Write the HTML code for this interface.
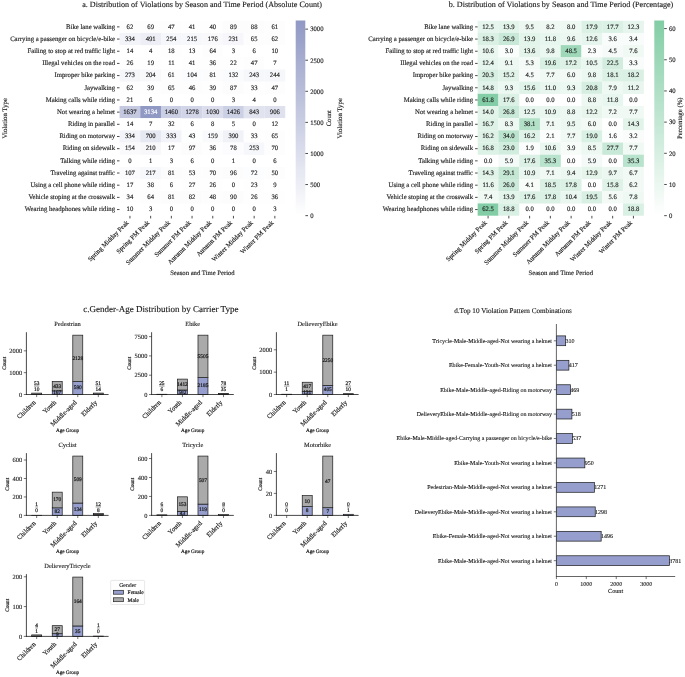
<!DOCTYPE html>
<html lang="en"><head><meta charset="utf-8"><title>Violation distribution figure</title>
<style>html,body{margin:0;padding:0;background:#fff}svg{display:block}text{font-family:"Liberation Serif",serif;text-rendering:geometricPrecision;stroke:#1a1a1a;stroke-width:0.13px;paint-order:stroke}</style></head><body>
<svg width="685" height="677" viewBox="0 0 685 677">
<rect x="0" y="0" width="685" height="677" fill="#ffffff"/>
<text x="202.1" y="7.3" font-size="8.1" text-anchor="middle" fill="#1a1a1a">a. Distribution of Violations by Season and Time Period (Absolute Count)</text>
<rect x="119.55" y="20.75" width="20.8" height="12.28" fill="#fdfdfe"/>
<text x="129.95" y="28.69" font-size="6.67" text-anchor="middle" fill="#1a1a1a">62</text>
<rect x="140.25" y="20.75" width="20.8" height="12.28" fill="#fdfdfe"/>
<text x="150.65" y="28.69" font-size="6.67" text-anchor="middle" fill="#1a1a1a">69</text>
<rect x="160.95" y="20.75" width="20.8" height="12.28" fill="#fdfdfe"/>
<text x="171.35" y="28.69" font-size="6.67" text-anchor="middle" fill="#1a1a1a">47</text>
<rect x="181.65" y="20.75" width="20.8" height="12.28" fill="#fefefe"/>
<text x="192.05" y="28.69" font-size="6.67" text-anchor="middle" fill="#1a1a1a">41</text>
<rect x="202.35" y="20.75" width="20.8" height="12.28" fill="#fefefe"/>
<text x="212.75" y="28.69" font-size="6.67" text-anchor="middle" fill="#1a1a1a">40</text>
<rect x="223.05" y="20.75" width="20.8" height="12.28" fill="#fcfcfd"/>
<text x="233.45" y="28.69" font-size="6.67" text-anchor="middle" fill="#1a1a1a">89</text>
<rect x="243.75" y="20.75" width="20.8" height="12.28" fill="#fcfcfd"/>
<text x="254.15" y="28.69" font-size="6.67" text-anchor="middle" fill="#1a1a1a">88</text>
<rect x="264.45" y="20.75" width="20.8" height="12.28" fill="#fdfdfe"/>
<text x="274.85" y="28.69" font-size="6.67" text-anchor="middle" fill="#1a1a1a">61</text>
<text x="115" y="28.64" font-size="6.72" text-anchor="end" fill="#1a1a1a">Bike lane walking</text>
<line x1="117" y1="26.89" x2="119.5" y2="26.89" stroke="#111" stroke-width="0.75"/>
<rect x="119.55" y="32.93" width="20.8" height="12.28" fill="#f3f4f9"/>
<text x="129.95" y="40.87" font-size="6.67" text-anchor="middle" fill="#1a1a1a">334</text>
<rect x="140.25" y="32.93" width="20.8" height="12.28" fill="#eeeff6"/>
<text x="150.65" y="40.87" font-size="6.67" text-anchor="middle" fill="#1a1a1a">491</text>
<rect x="160.95" y="32.93" width="20.8" height="12.28" fill="#f6f7fa"/>
<text x="171.35" y="40.87" font-size="6.67" text-anchor="middle" fill="#1a1a1a">254</text>
<rect x="181.65" y="32.93" width="20.8" height="12.28" fill="#f7f8fb"/>
<text x="192.05" y="40.87" font-size="6.67" text-anchor="middle" fill="#1a1a1a">215</text>
<rect x="202.35" y="32.93" width="20.8" height="12.28" fill="#f9f9fc"/>
<text x="212.75" y="40.87" font-size="6.67" text-anchor="middle" fill="#1a1a1a">176</text>
<rect x="223.05" y="32.93" width="20.8" height="12.28" fill="#f7f7fb"/>
<text x="233.45" y="40.87" font-size="6.67" text-anchor="middle" fill="#1a1a1a">231</text>
<rect x="243.75" y="32.93" width="20.8" height="12.28" fill="#fdfdfe"/>
<text x="254.15" y="40.87" font-size="6.67" text-anchor="middle" fill="#1a1a1a">65</text>
<rect x="264.45" y="32.93" width="20.8" height="12.28" fill="#fdfdfe"/>
<text x="274.85" y="40.87" font-size="6.67" text-anchor="middle" fill="#1a1a1a">62</text>
<text x="115" y="40.82" font-size="6.72" text-anchor="end" fill="#1a1a1a">Carrying a passenger on bicycle/e-bike</text>
<line x1="117" y1="39.07" x2="119.5" y2="39.07" stroke="#111" stroke-width="0.75"/>
<rect x="119.55" y="45.11" width="20.8" height="12.28" fill="#ffffff"/>
<text x="129.95" y="53.05" font-size="6.67" text-anchor="middle" fill="#1a1a1a">14</text>
<text x="150.65" y="53.05" font-size="6.67" text-anchor="middle" fill="#1a1a1a">4</text>
<rect x="160.95" y="45.11" width="20.8" height="12.28" fill="#fefeff"/>
<text x="171.35" y="53.05" font-size="6.67" text-anchor="middle" fill="#1a1a1a">18</text>
<rect x="181.65" y="45.11" width="20.8" height="12.28" fill="#ffffff"/>
<text x="192.05" y="53.05" font-size="6.67" text-anchor="middle" fill="#1a1a1a">13</text>
<rect x="202.35" y="45.11" width="20.8" height="12.28" fill="#fdfdfe"/>
<text x="212.75" y="53.05" font-size="6.67" text-anchor="middle" fill="#1a1a1a">64</text>
<text x="233.45" y="53.05" font-size="6.67" text-anchor="middle" fill="#1a1a1a">3</text>
<text x="254.15" y="53.05" font-size="6.67" text-anchor="middle" fill="#1a1a1a">6</text>
<rect x="264.45" y="45.11" width="20.8" height="12.28" fill="#ffffff"/>
<text x="274.85" y="53.05" font-size="6.67" text-anchor="middle" fill="#1a1a1a">10</text>
<text x="115" y="53" font-size="6.72" text-anchor="end" fill="#1a1a1a">Failing to stop at red traffic light</text>
<line x1="117" y1="51.25" x2="119.5" y2="51.25" stroke="#111" stroke-width="0.75"/>
<rect x="119.55" y="57.28" width="20.8" height="12.28" fill="#fefeff"/>
<text x="129.95" y="65.22" font-size="6.67" text-anchor="middle" fill="#1a1a1a">26</text>
<rect x="140.25" y="57.28" width="20.8" height="12.28" fill="#fefeff"/>
<text x="150.65" y="65.22" font-size="6.67" text-anchor="middle" fill="#1a1a1a">19</text>
<rect x="160.95" y="57.28" width="20.8" height="12.28" fill="#ffffff"/>
<text x="171.35" y="65.22" font-size="6.67" text-anchor="middle" fill="#1a1a1a">11</text>
<rect x="181.65" y="57.28" width="20.8" height="12.28" fill="#fefefe"/>
<text x="192.05" y="65.22" font-size="6.67" text-anchor="middle" fill="#1a1a1a">41</text>
<rect x="202.35" y="57.28" width="20.8" height="12.28" fill="#fefefe"/>
<text x="212.75" y="65.22" font-size="6.67" text-anchor="middle" fill="#1a1a1a">36</text>
<rect x="223.05" y="57.28" width="20.8" height="12.28" fill="#fefeff"/>
<text x="233.45" y="65.22" font-size="6.67" text-anchor="middle" fill="#1a1a1a">22</text>
<rect x="243.75" y="57.28" width="20.8" height="12.28" fill="#fdfdfe"/>
<text x="254.15" y="65.22" font-size="6.67" text-anchor="middle" fill="#1a1a1a">47</text>
<rect x="264.45" y="57.28" width="20.8" height="12.28" fill="#ffffff"/>
<text x="274.85" y="65.22" font-size="6.67" text-anchor="middle" fill="#1a1a1a">7</text>
<text x="115" y="65.17" font-size="6.72" text-anchor="end" fill="#1a1a1a">Illegal vehicles on the road</text>
<line x1="117" y1="63.42" x2="119.5" y2="63.42" stroke="#111" stroke-width="0.75"/>
<rect x="119.55" y="69.46" width="20.8" height="12.28" fill="#f5f6fa"/>
<text x="129.95" y="77.4" font-size="6.67" text-anchor="middle" fill="#1a1a1a">273</text>
<rect x="140.25" y="69.46" width="20.8" height="12.28" fill="#f8f8fb"/>
<text x="150.65" y="77.4" font-size="6.67" text-anchor="middle" fill="#1a1a1a">204</text>
<rect x="160.95" y="69.46" width="20.8" height="12.28" fill="#fdfdfe"/>
<text x="171.35" y="77.4" font-size="6.67" text-anchor="middle" fill="#1a1a1a">61</text>
<rect x="181.65" y="69.46" width="20.8" height="12.28" fill="#fbfcfd"/>
<text x="192.05" y="77.4" font-size="6.67" text-anchor="middle" fill="#1a1a1a">104</text>
<rect x="202.35" y="69.46" width="20.8" height="12.28" fill="#fcfcfd"/>
<text x="212.75" y="77.4" font-size="6.67" text-anchor="middle" fill="#1a1a1a">81</text>
<rect x="223.05" y="69.46" width="20.8" height="12.28" fill="#fafbfd"/>
<text x="233.45" y="77.4" font-size="6.67" text-anchor="middle" fill="#1a1a1a">132</text>
<rect x="243.75" y="69.46" width="20.8" height="12.28" fill="#f6f7fa"/>
<text x="254.15" y="77.4" font-size="6.67" text-anchor="middle" fill="#1a1a1a">243</text>
<rect x="264.45" y="69.46" width="20.8" height="12.28" fill="#f6f7fa"/>
<text x="274.85" y="77.4" font-size="6.67" text-anchor="middle" fill="#1a1a1a">244</text>
<text x="115" y="77.35" font-size="6.72" text-anchor="end" fill="#1a1a1a">Improper bike parking</text>
<line x1="117" y1="75.6" x2="119.5" y2="75.6" stroke="#111" stroke-width="0.75"/>
<rect x="119.55" y="81.64" width="20.8" height="12.28" fill="#fdfdfe"/>
<text x="129.95" y="89.58" font-size="6.67" text-anchor="middle" fill="#1a1a1a">62</text>
<rect x="140.25" y="81.64" width="20.8" height="12.28" fill="#fefefe"/>
<text x="150.65" y="89.58" font-size="6.67" text-anchor="middle" fill="#1a1a1a">39</text>
<rect x="160.95" y="81.64" width="20.8" height="12.28" fill="#fdfdfe"/>
<text x="171.35" y="89.58" font-size="6.67" text-anchor="middle" fill="#1a1a1a">65</text>
<rect x="181.65" y="81.64" width="20.8" height="12.28" fill="#fdfdfe"/>
<text x="192.05" y="89.58" font-size="6.67" text-anchor="middle" fill="#1a1a1a">46</text>
<rect x="202.35" y="81.64" width="20.8" height="12.28" fill="#fefefe"/>
<text x="212.75" y="89.58" font-size="6.67" text-anchor="middle" fill="#1a1a1a">39</text>
<rect x="223.05" y="81.64" width="20.8" height="12.28" fill="#fcfcfd"/>
<text x="233.45" y="89.58" font-size="6.67" text-anchor="middle" fill="#1a1a1a">87</text>
<rect x="243.75" y="81.64" width="20.8" height="12.28" fill="#fefefe"/>
<text x="254.15" y="89.58" font-size="6.67" text-anchor="middle" fill="#1a1a1a">33</text>
<rect x="264.45" y="81.64" width="20.8" height="12.28" fill="#fdfdfe"/>
<text x="274.85" y="89.58" font-size="6.67" text-anchor="middle" fill="#1a1a1a">47</text>
<text x="115" y="89.53" font-size="6.72" text-anchor="end" fill="#1a1a1a">Jaywalking</text>
<line x1="117" y1="87.78" x2="119.5" y2="87.78" stroke="#111" stroke-width="0.75"/>
<rect x="119.55" y="93.82" width="20.8" height="12.28" fill="#fefeff"/>
<text x="129.95" y="101.76" font-size="6.67" text-anchor="middle" fill="#1a1a1a">21</text>
<text x="150.65" y="101.76" font-size="6.67" text-anchor="middle" fill="#1a1a1a">6</text>
<text x="171.35" y="101.76" font-size="6.67" text-anchor="middle" fill="#1a1a1a">0</text>
<text x="192.05" y="101.76" font-size="6.67" text-anchor="middle" fill="#1a1a1a">0</text>
<text x="212.75" y="101.76" font-size="6.67" text-anchor="middle" fill="#1a1a1a">0</text>
<text x="233.45" y="101.76" font-size="6.67" text-anchor="middle" fill="#1a1a1a">3</text>
<text x="254.15" y="101.76" font-size="6.67" text-anchor="middle" fill="#1a1a1a">4</text>
<text x="274.85" y="101.76" font-size="6.67" text-anchor="middle" fill="#1a1a1a">0</text>
<text x="115" y="101.71" font-size="6.72" text-anchor="end" fill="#1a1a1a">Making calls while riding</text>
<line x1="117" y1="99.96" x2="119.5" y2="99.96" stroke="#111" stroke-width="0.75"/>
<rect x="119.55" y="106" width="20.8" height="12.28" fill="#c5c9e0"/>
<text x="129.95" y="113.94" font-size="6.67" text-anchor="middle" fill="#1a1a1a">1637</text>
<rect x="140.25" y="106" width="20.8" height="12.28" fill="#9098c4"/>
<text x="150.65" y="113.94" font-size="6.67" text-anchor="middle" fill="#ffffff" style="stroke:#ffffff;">3134</text>
<rect x="160.95" y="106" width="20.8" height="12.28" fill="#cbcfe4"/>
<text x="171.35" y="113.94" font-size="6.67" text-anchor="middle" fill="#1a1a1a">1460</text>
<rect x="181.65" y="106" width="20.8" height="12.28" fill="#d2d5e7"/>
<text x="192.05" y="113.94" font-size="6.67" text-anchor="middle" fill="#1a1a1a">1278</text>
<rect x="202.35" y="106" width="20.8" height="12.28" fill="#dbddec"/>
<text x="212.75" y="113.94" font-size="6.67" text-anchor="middle" fill="#1a1a1a">1030</text>
<rect x="223.05" y="106" width="20.8" height="12.28" fill="#ccd0e4"/>
<text x="233.45" y="113.94" font-size="6.67" text-anchor="middle" fill="#1a1a1a">1426</text>
<rect x="243.75" y="106" width="20.8" height="12.28" fill="#e1e3ef"/>
<text x="254.15" y="113.94" font-size="6.67" text-anchor="middle" fill="#1a1a1a">843</text>
<rect x="264.45" y="106" width="20.8" height="12.28" fill="#dfe1ee"/>
<text x="274.85" y="113.94" font-size="6.67" text-anchor="middle" fill="#1a1a1a">906</text>
<text x="115" y="113.89" font-size="6.72" text-anchor="end" fill="#1a1a1a">Not wearing a helmet</text>
<line x1="117" y1="112.14" x2="119.5" y2="112.14" stroke="#111" stroke-width="0.75"/>
<rect x="119.55" y="118.17" width="20.8" height="12.28" fill="#ffffff"/>
<text x="129.95" y="126.11" font-size="6.67" text-anchor="middle" fill="#1a1a1a">14</text>
<rect x="140.25" y="118.17" width="20.8" height="12.28" fill="#ffffff"/>
<text x="150.65" y="126.11" font-size="6.67" text-anchor="middle" fill="#1a1a1a">7</text>
<rect x="160.95" y="118.17" width="20.8" height="12.28" fill="#fefefe"/>
<text x="171.35" y="126.11" font-size="6.67" text-anchor="middle" fill="#1a1a1a">32</text>
<text x="192.05" y="126.11" font-size="6.67" text-anchor="middle" fill="#1a1a1a">6</text>
<rect x="202.35" y="118.17" width="20.8" height="12.28" fill="#ffffff"/>
<text x="212.75" y="126.11" font-size="6.67" text-anchor="middle" fill="#1a1a1a">8</text>
<text x="233.45" y="126.11" font-size="6.67" text-anchor="middle" fill="#1a1a1a">5</text>
<text x="254.15" y="126.11" font-size="6.67" text-anchor="middle" fill="#1a1a1a">0</text>
<rect x="264.45" y="118.17" width="20.8" height="12.28" fill="#ffffff"/>
<text x="274.85" y="126.11" font-size="6.67" text-anchor="middle" fill="#1a1a1a">12</text>
<text x="115" y="126.06" font-size="6.72" text-anchor="end" fill="#1a1a1a">Riding in parallel</text>
<line x1="117" y1="124.31" x2="119.5" y2="124.31" stroke="#111" stroke-width="0.75"/>
<rect x="119.55" y="130.35" width="20.8" height="12.28" fill="#f3f4f9"/>
<text x="129.95" y="138.29" font-size="6.67" text-anchor="middle" fill="#1a1a1a">334</text>
<rect x="140.25" y="130.35" width="20.8" height="12.28" fill="#e6e8f2"/>
<text x="150.65" y="138.29" font-size="6.67" text-anchor="middle" fill="#1a1a1a">700</text>
<rect x="160.95" y="130.35" width="20.8" height="12.28" fill="#f3f4f9"/>
<text x="171.35" y="138.29" font-size="6.67" text-anchor="middle" fill="#1a1a1a">333</text>
<rect x="181.65" y="130.35" width="20.8" height="12.28" fill="#fdfefe"/>
<text x="192.05" y="138.29" font-size="6.67" text-anchor="middle" fill="#1a1a1a">43</text>
<rect x="202.35" y="130.35" width="20.8" height="12.28" fill="#f9fafc"/>
<text x="212.75" y="138.29" font-size="6.67" text-anchor="middle" fill="#1a1a1a">159</text>
<rect x="223.05" y="130.35" width="20.8" height="12.28" fill="#f1f2f8"/>
<text x="233.45" y="138.29" font-size="6.67" text-anchor="middle" fill="#1a1a1a">390</text>
<rect x="243.75" y="130.35" width="20.8" height="12.28" fill="#fefefe"/>
<text x="254.15" y="138.29" font-size="6.67" text-anchor="middle" fill="#1a1a1a">33</text>
<rect x="264.45" y="130.35" width="20.8" height="12.28" fill="#fdfdfe"/>
<text x="274.85" y="138.29" font-size="6.67" text-anchor="middle" fill="#1a1a1a">65</text>
<text x="115" y="138.24" font-size="6.72" text-anchor="end" fill="#1a1a1a">Riding on motorway</text>
<line x1="117" y1="136.49" x2="119.5" y2="136.49" stroke="#111" stroke-width="0.75"/>
<rect x="119.55" y="142.53" width="20.8" height="12.28" fill="#fafafc"/>
<text x="129.95" y="150.47" font-size="6.67" text-anchor="middle" fill="#1a1a1a">154</text>
<rect x="140.25" y="142.53" width="20.8" height="12.28" fill="#f8f8fb"/>
<text x="150.65" y="150.47" font-size="6.67" text-anchor="middle" fill="#1a1a1a">210</text>
<rect x="160.95" y="142.53" width="20.8" height="12.28" fill="#fefeff"/>
<text x="171.35" y="150.47" font-size="6.67" text-anchor="middle" fill="#1a1a1a">17</text>
<rect x="181.65" y="142.53" width="20.8" height="12.28" fill="#fcfcfd"/>
<text x="192.05" y="150.47" font-size="6.67" text-anchor="middle" fill="#1a1a1a">97</text>
<rect x="202.35" y="142.53" width="20.8" height="12.28" fill="#fefefe"/>
<text x="212.75" y="150.47" font-size="6.67" text-anchor="middle" fill="#1a1a1a">36</text>
<rect x="223.05" y="142.53" width="20.8" height="12.28" fill="#fcfcfe"/>
<text x="233.45" y="150.47" font-size="6.67" text-anchor="middle" fill="#1a1a1a">78</text>
<rect x="243.75" y="142.53" width="20.8" height="12.28" fill="#f6f7fa"/>
<text x="254.15" y="150.47" font-size="6.67" text-anchor="middle" fill="#1a1a1a">253</text>
<rect x="264.45" y="142.53" width="20.8" height="12.28" fill="#fdfdfe"/>
<text x="274.85" y="150.47" font-size="6.67" text-anchor="middle" fill="#1a1a1a">70</text>
<text x="115" y="150.42" font-size="6.72" text-anchor="end" fill="#1a1a1a">Riding on sidewalk</text>
<line x1="117" y1="148.67" x2="119.5" y2="148.67" stroke="#111" stroke-width="0.75"/>
<text x="129.95" y="162.65" font-size="6.67" text-anchor="middle" fill="#1a1a1a">0</text>
<text x="150.65" y="162.65" font-size="6.67" text-anchor="middle" fill="#1a1a1a">1</text>
<text x="171.35" y="162.65" font-size="6.67" text-anchor="middle" fill="#1a1a1a">3</text>
<text x="192.05" y="162.65" font-size="6.67" text-anchor="middle" fill="#1a1a1a">6</text>
<text x="212.75" y="162.65" font-size="6.67" text-anchor="middle" fill="#1a1a1a">0</text>
<text x="233.45" y="162.65" font-size="6.67" text-anchor="middle" fill="#1a1a1a">1</text>
<text x="254.15" y="162.65" font-size="6.67" text-anchor="middle" fill="#1a1a1a">0</text>
<text x="274.85" y="162.65" font-size="6.67" text-anchor="middle" fill="#1a1a1a">6</text>
<text x="115" y="162.6" font-size="6.72" text-anchor="end" fill="#1a1a1a">Talking while riding</text>
<line x1="117" y1="160.85" x2="119.5" y2="160.85" stroke="#111" stroke-width="0.75"/>
<rect x="119.55" y="166.89" width="20.8" height="12.28" fill="#fbfbfd"/>
<text x="129.95" y="174.83" font-size="6.67" text-anchor="middle" fill="#1a1a1a">107</text>
<rect x="140.25" y="166.89" width="20.8" height="12.28" fill="#f7f8fb"/>
<text x="150.65" y="174.83" font-size="6.67" text-anchor="middle" fill="#1a1a1a">217</text>
<rect x="160.95" y="166.89" width="20.8" height="12.28" fill="#fcfcfd"/>
<text x="171.35" y="174.83" font-size="6.67" text-anchor="middle" fill="#1a1a1a">81</text>
<rect x="181.65" y="166.89" width="20.8" height="12.28" fill="#fdfdfe"/>
<text x="192.05" y="174.83" font-size="6.67" text-anchor="middle" fill="#1a1a1a">53</text>
<rect x="202.35" y="166.89" width="20.8" height="12.28" fill="#fdfdfe"/>
<text x="212.75" y="174.83" font-size="6.67" text-anchor="middle" fill="#1a1a1a">70</text>
<rect x="223.05" y="166.89" width="20.8" height="12.28" fill="#fcfcfd"/>
<text x="233.45" y="174.83" font-size="6.67" text-anchor="middle" fill="#1a1a1a">96</text>
<rect x="243.75" y="166.89" width="20.8" height="12.28" fill="#fcfdfe"/>
<text x="254.15" y="174.83" font-size="6.67" text-anchor="middle" fill="#1a1a1a">72</text>
<rect x="264.45" y="166.89" width="20.8" height="12.28" fill="#fdfdfe"/>
<text x="274.85" y="174.83" font-size="6.67" text-anchor="middle" fill="#1a1a1a">50</text>
<text x="115" y="174.78" font-size="6.72" text-anchor="end" fill="#1a1a1a">Traveling against traffic</text>
<line x1="117" y1="173.03" x2="119.5" y2="173.03" stroke="#111" stroke-width="0.75"/>
<rect x="119.55" y="179.07" width="20.8" height="12.28" fill="#fefeff"/>
<text x="129.95" y="187" font-size="6.67" text-anchor="middle" fill="#1a1a1a">17</text>
<rect x="140.25" y="179.07" width="20.8" height="12.28" fill="#fefefe"/>
<text x="150.65" y="187" font-size="6.67" text-anchor="middle" fill="#1a1a1a">38</text>
<text x="171.35" y="187" font-size="6.67" text-anchor="middle" fill="#1a1a1a">6</text>
<rect x="181.65" y="179.07" width="20.8" height="12.28" fill="#fefefe"/>
<text x="192.05" y="187" font-size="6.67" text-anchor="middle" fill="#1a1a1a">27</text>
<rect x="202.35" y="179.07" width="20.8" height="12.28" fill="#fefeff"/>
<text x="212.75" y="187" font-size="6.67" text-anchor="middle" fill="#1a1a1a">26</text>
<text x="233.45" y="187" font-size="6.67" text-anchor="middle" fill="#1a1a1a">0</text>
<rect x="243.75" y="179.07" width="20.8" height="12.28" fill="#fefeff"/>
<text x="254.15" y="187" font-size="6.67" text-anchor="middle" fill="#1a1a1a">23</text>
<rect x="264.45" y="179.07" width="20.8" height="12.28" fill="#ffffff"/>
<text x="274.85" y="187" font-size="6.67" text-anchor="middle" fill="#1a1a1a">9</text>
<text x="115" y="186.95" font-size="6.72" text-anchor="end" fill="#1a1a1a">Using a cell phone while riding</text>
<line x1="117" y1="185.2" x2="119.5" y2="185.2" stroke="#111" stroke-width="0.75"/>
<rect x="119.55" y="191.24" width="20.8" height="12.28" fill="#fefefe"/>
<text x="129.95" y="199.18" font-size="6.67" text-anchor="middle" fill="#1a1a1a">34</text>
<rect x="140.25" y="191.24" width="20.8" height="12.28" fill="#fdfdfe"/>
<text x="150.65" y="199.18" font-size="6.67" text-anchor="middle" fill="#1a1a1a">64</text>
<rect x="160.95" y="191.24" width="20.8" height="12.28" fill="#fcfcfd"/>
<text x="171.35" y="199.18" font-size="6.67" text-anchor="middle" fill="#1a1a1a">81</text>
<rect x="181.65" y="191.24" width="20.8" height="12.28" fill="#fcfcfd"/>
<text x="192.05" y="199.18" font-size="6.67" text-anchor="middle" fill="#1a1a1a">82</text>
<rect x="202.35" y="191.24" width="20.8" height="12.28" fill="#fdfdfe"/>
<text x="212.75" y="199.18" font-size="6.67" text-anchor="middle" fill="#1a1a1a">48</text>
<rect x="223.05" y="191.24" width="20.8" height="12.28" fill="#fcfcfd"/>
<text x="233.45" y="199.18" font-size="6.67" text-anchor="middle" fill="#1a1a1a">90</text>
<rect x="243.75" y="191.24" width="20.8" height="12.28" fill="#fefeff"/>
<text x="254.15" y="199.18" font-size="6.67" text-anchor="middle" fill="#1a1a1a">26</text>
<rect x="264.45" y="191.24" width="20.8" height="12.28" fill="#fefefe"/>
<text x="274.85" y="199.18" font-size="6.67" text-anchor="middle" fill="#1a1a1a">36</text>
<text x="115" y="199.13" font-size="6.72" text-anchor="end" fill="#1a1a1a">Vehicle stoping at the crosswalk</text>
<line x1="117" y1="197.38" x2="119.5" y2="197.38" stroke="#111" stroke-width="0.75"/>
<rect x="119.55" y="203.42" width="20.8" height="12.28" fill="#ffffff"/>
<text x="129.95" y="211.36" font-size="6.67" text-anchor="middle" fill="#1a1a1a">10</text>
<text x="150.65" y="211.36" font-size="6.67" text-anchor="middle" fill="#1a1a1a">3</text>
<text x="171.35" y="211.36" font-size="6.67" text-anchor="middle" fill="#1a1a1a">0</text>
<text x="192.05" y="211.36" font-size="6.67" text-anchor="middle" fill="#1a1a1a">0</text>
<text x="212.75" y="211.36" font-size="6.67" text-anchor="middle" fill="#1a1a1a">0</text>
<text x="233.45" y="211.36" font-size="6.67" text-anchor="middle" fill="#1a1a1a">0</text>
<text x="254.15" y="211.36" font-size="6.67" text-anchor="middle" fill="#1a1a1a">0</text>
<text x="274.85" y="211.36" font-size="6.67" text-anchor="middle" fill="#1a1a1a">3</text>
<text x="115" y="211.31" font-size="6.72" text-anchor="end" fill="#1a1a1a">Wearing headphones while riding</text>
<line x1="117" y1="209.56" x2="119.5" y2="209.56" stroke="#111" stroke-width="0.75"/>
<line x1="129.95" y1="215.85" x2="129.95" y2="218.45" stroke="#111" stroke-width="0.75"/>
<text x="129.15" y="223.05" font-size="6.67" text-anchor="end" fill="#1a1a1a" transform="rotate(-45 129.15 223.05)">Spring Midday Peak</text>
<line x1="150.65" y1="215.85" x2="150.65" y2="218.45" stroke="#111" stroke-width="0.75"/>
<text x="149.85" y="223.05" font-size="6.67" text-anchor="end" fill="#1a1a1a" transform="rotate(-45 149.85 223.05)">Spring PM Peak</text>
<line x1="171.35" y1="215.85" x2="171.35" y2="218.45" stroke="#111" stroke-width="0.75"/>
<text x="170.55" y="223.05" font-size="6.67" text-anchor="end" fill="#1a1a1a" transform="rotate(-45 170.55 223.05)">Summer Midday Peak</text>
<line x1="192.05" y1="215.85" x2="192.05" y2="218.45" stroke="#111" stroke-width="0.75"/>
<text x="191.25" y="223.05" font-size="6.67" text-anchor="end" fill="#1a1a1a" transform="rotate(-45 191.25 223.05)">Summer PM Peak</text>
<line x1="212.75" y1="215.85" x2="212.75" y2="218.45" stroke="#111" stroke-width="0.75"/>
<text x="211.95" y="223.05" font-size="6.67" text-anchor="end" fill="#1a1a1a" transform="rotate(-45 211.95 223.05)">Autumn Midday Peak</text>
<line x1="233.45" y1="215.85" x2="233.45" y2="218.45" stroke="#111" stroke-width="0.75"/>
<text x="232.65" y="223.05" font-size="6.67" text-anchor="end" fill="#1a1a1a" transform="rotate(-45 232.65 223.05)">Autumn PM Peak</text>
<line x1="254.15" y1="215.85" x2="254.15" y2="218.45" stroke="#111" stroke-width="0.75"/>
<text x="253.35" y="223.05" font-size="6.67" text-anchor="end" fill="#1a1a1a" transform="rotate(-45 253.35 223.05)">Winter Midday Peak</text>
<line x1="274.85" y1="215.85" x2="274.85" y2="218.45" stroke="#111" stroke-width="0.75"/>
<text x="274.05" y="223.05" font-size="6.67" text-anchor="end" fill="#1a1a1a" transform="rotate(-45 274.05 223.05)">Winter PM Peak</text>
<text x="202.4" y="274.9" font-size="6.67" text-anchor="middle" fill="#1a1a1a">Season and Time Period</text>
<text x="6.6" y="118.23" font-size="6.8" text-anchor="middle" fill="#1a1a1a" transform="rotate(-90 6.6 118.23)">Violation Type</text>
<defs><linearGradient id="ga" x1="0" y1="1" x2="0" y2="0"><stop offset="0" stop-color="#ffffff"/><stop offset="1" stop-color="#9098c4"/></linearGradient></defs>
<rect x="295.7" y="20.5" width="9.6" height="195.15" fill="url(#ga)"/>
<line x1="305.4" y1="215.65" x2="308" y2="215.65" stroke="#111" stroke-width="0.75"/>
<text x="310.2" y="217.95" font-size="6.67" text-anchor="start" fill="#1a1a1a">0</text>
<line x1="305.4" y1="184.56" x2="308" y2="184.56" stroke="#111" stroke-width="0.75"/>
<text x="310.2" y="186.86" font-size="6.67" text-anchor="start" fill="#1a1a1a">500</text>
<line x1="305.4" y1="153.48" x2="308" y2="153.48" stroke="#111" stroke-width="0.75"/>
<text x="310.2" y="155.78" font-size="6.67" text-anchor="start" fill="#1a1a1a">1000</text>
<line x1="305.4" y1="122.39" x2="308" y2="122.39" stroke="#111" stroke-width="0.75"/>
<text x="310.2" y="124.69" font-size="6.67" text-anchor="start" fill="#1a1a1a">1500</text>
<line x1="305.4" y1="91.3" x2="308" y2="91.3" stroke="#111" stroke-width="0.75"/>
<text x="310.2" y="93.6" font-size="6.67" text-anchor="start" fill="#1a1a1a">2000</text>
<line x1="305.4" y1="60.22" x2="308" y2="60.22" stroke="#111" stroke-width="0.75"/>
<text x="310.2" y="62.52" font-size="6.67" text-anchor="start" fill="#1a1a1a">2500</text>
<line x1="305.4" y1="29.13" x2="308" y2="29.13" stroke="#111" stroke-width="0.75"/>
<text x="310.2" y="31.43" font-size="6.67" text-anchor="start" fill="#1a1a1a">3000</text>
<text x="331" y="118.23" font-size="6.67" text-anchor="middle" fill="#1a1a1a" transform="rotate(-90 331 118.23)">Count</text>
<text x="561" y="7.3" font-size="8.1" text-anchor="middle" fill="#1a1a1a">b. Distribution of Violations by Season and Time Period (Percentage)</text>
<rect x="477.65" y="20.75" width="20.86" height="12.28" fill="#e6f5ed"/>
<text x="488.08" y="28.69" font-size="6.67" text-anchor="middle" fill="#1a1a1a">12.5</text>
<rect x="498.41" y="20.75" width="20.86" height="12.28" fill="#e3f4eb"/>
<text x="508.84" y="28.69" font-size="6.67" text-anchor="middle" fill="#1a1a1a">13.9</text>
<rect x="519.18" y="20.75" width="20.86" height="12.28" fill="#ecf7f1"/>
<text x="529.61" y="28.69" font-size="6.67" text-anchor="middle" fill="#1a1a1a">9.5</text>
<rect x="539.94" y="20.75" width="20.86" height="12.28" fill="#eff8f3"/>
<text x="550.37" y="28.69" font-size="6.67" text-anchor="middle" fill="#1a1a1a">8.2</text>
<rect x="560.7" y="20.75" width="20.86" height="12.28" fill="#eff9f3"/>
<text x="571.13" y="28.69" font-size="6.67" text-anchor="middle" fill="#1a1a1a">8.0</text>
<rect x="581.46" y="20.75" width="20.86" height="12.28" fill="#dbf1e5"/>
<text x="591.89" y="28.69" font-size="6.67" text-anchor="middle" fill="#1a1a1a">17.9</text>
<rect x="602.23" y="20.75" width="20.86" height="12.28" fill="#dcf1e6"/>
<text x="612.66" y="28.69" font-size="6.67" text-anchor="middle" fill="#1a1a1a">17.7</text>
<rect x="622.99" y="20.75" width="20.86" height="12.28" fill="#e6f5ed"/>
<text x="633.42" y="28.69" font-size="6.67" text-anchor="middle" fill="#1a1a1a">12.3</text>
<text x="473.1" y="28.64" font-size="6.72" text-anchor="end" fill="#1a1a1a">Bike lane walking</text>
<line x1="475.1" y1="26.89" x2="477.6" y2="26.89" stroke="#111" stroke-width="0.75"/>
<rect x="477.65" y="32.93" width="20.86" height="12.28" fill="#daf0e5"/>
<text x="488.08" y="40.87" font-size="6.67" text-anchor="middle" fill="#1a1a1a">18.3</text>
<rect x="498.41" y="32.93" width="20.86" height="12.28" fill="#c9e9d8"/>
<text x="508.84" y="40.87" font-size="6.67" text-anchor="middle" fill="#1a1a1a">26.9</text>
<rect x="519.18" y="32.93" width="20.86" height="12.28" fill="#e3f4eb"/>
<text x="529.61" y="40.87" font-size="6.67" text-anchor="middle" fill="#1a1a1a">13.9</text>
<rect x="539.94" y="32.93" width="20.86" height="12.28" fill="#e7f6ee"/>
<text x="550.37" y="40.87" font-size="6.67" text-anchor="middle" fill="#1a1a1a">11.8</text>
<rect x="560.7" y="32.93" width="20.86" height="12.28" fill="#ecf7f1"/>
<text x="571.13" y="40.87" font-size="6.67" text-anchor="middle" fill="#1a1a1a">9.6</text>
<rect x="581.46" y="32.93" width="20.86" height="12.28" fill="#e6f5ed"/>
<text x="591.89" y="40.87" font-size="6.67" text-anchor="middle" fill="#1a1a1a">12.6</text>
<rect x="602.23" y="32.93" width="20.86" height="12.28" fill="#f8fcfa"/>
<text x="612.66" y="40.87" font-size="6.67" text-anchor="middle" fill="#1a1a1a">3.6</text>
<rect x="622.99" y="32.93" width="20.86" height="12.28" fill="#f8fcfa"/>
<text x="633.42" y="40.87" font-size="6.67" text-anchor="middle" fill="#1a1a1a">3.4</text>
<text x="473.1" y="40.82" font-size="6.72" text-anchor="end" fill="#1a1a1a">Carrying a passenger on bicycle/e-bike</text>
<line x1="475.1" y1="39.07" x2="477.6" y2="39.07" stroke="#111" stroke-width="0.75"/>
<rect x="477.65" y="45.11" width="20.86" height="12.28" fill="#eaf7f0"/>
<text x="488.08" y="53.05" font-size="6.67" text-anchor="middle" fill="#1a1a1a">10.6</text>
<rect x="498.41" y="45.11" width="20.86" height="12.28" fill="#f9fdfb"/>
<text x="508.84" y="53.05" font-size="6.67" text-anchor="middle" fill="#1a1a1a">3.0</text>
<rect x="519.18" y="45.11" width="20.86" height="12.28" fill="#e4f4eb"/>
<text x="529.61" y="53.05" font-size="6.67" text-anchor="middle" fill="#1a1a1a">13.6</text>
<rect x="539.94" y="45.11" width="20.86" height="12.28" fill="#ebf7f1"/>
<text x="550.37" y="53.05" font-size="6.67" text-anchor="middle" fill="#1a1a1a">9.8</text>
<rect x="560.7" y="45.11" width="20.86" height="12.28" fill="#9ed8b9"/>
<text x="571.13" y="53.05" font-size="6.67" text-anchor="middle" fill="#1a1a1a">48.5</text>
<rect x="581.46" y="45.11" width="20.86" height="12.28" fill="#fafdfc"/>
<text x="591.89" y="53.05" font-size="6.67" text-anchor="middle" fill="#1a1a1a">2.3</text>
<rect x="602.23" y="45.11" width="20.86" height="12.28" fill="#f6fbf9"/>
<text x="612.66" y="53.05" font-size="6.67" text-anchor="middle" fill="#1a1a1a">4.5</text>
<rect x="622.99" y="45.11" width="20.86" height="12.28" fill="#f0f9f4"/>
<text x="633.42" y="53.05" font-size="6.67" text-anchor="middle" fill="#1a1a1a">7.6</text>
<text x="473.1" y="53" font-size="6.72" text-anchor="end" fill="#1a1a1a">Failing to stop at red traffic light</text>
<line x1="475.1" y1="51.25" x2="477.6" y2="51.25" stroke="#111" stroke-width="0.75"/>
<rect x="477.65" y="57.28" width="20.86" height="12.28" fill="#e6f5ed"/>
<text x="488.08" y="65.22" font-size="6.67" text-anchor="middle" fill="#1a1a1a">12.4</text>
<rect x="498.41" y="57.28" width="20.86" height="12.28" fill="#edf8f2"/>
<text x="508.84" y="65.22" font-size="6.67" text-anchor="middle" fill="#1a1a1a">9.1</text>
<rect x="519.18" y="57.28" width="20.86" height="12.28" fill="#f4fbf7"/>
<text x="529.61" y="65.22" font-size="6.67" text-anchor="middle" fill="#1a1a1a">5.3</text>
<rect x="539.94" y="57.28" width="20.86" height="12.28" fill="#d8efe3"/>
<text x="550.37" y="65.22" font-size="6.67" text-anchor="middle" fill="#1a1a1a">19.6</text>
<rect x="560.7" y="57.28" width="20.86" height="12.28" fill="#ddf1e6"/>
<text x="571.13" y="65.22" font-size="6.67" text-anchor="middle" fill="#1a1a1a">17.2</text>
<rect x="581.46" y="57.28" width="20.86" height="12.28" fill="#eaf7f0"/>
<text x="591.89" y="65.22" font-size="6.67" text-anchor="middle" fill="#1a1a1a">10.5</text>
<rect x="602.23" y="57.28" width="20.86" height="12.28" fill="#d2eddf"/>
<text x="612.66" y="65.22" font-size="6.67" text-anchor="middle" fill="#1a1a1a">22.5</text>
<rect x="622.99" y="57.28" width="20.86" height="12.28" fill="#f8fcfa"/>
<text x="633.42" y="65.22" font-size="6.67" text-anchor="middle" fill="#1a1a1a">3.3</text>
<text x="473.1" y="65.17" font-size="6.72" text-anchor="end" fill="#1a1a1a">Illegal vehicles on the road</text>
<line x1="475.1" y1="63.42" x2="477.6" y2="63.42" stroke="#111" stroke-width="0.75"/>
<rect x="477.65" y="69.46" width="20.86" height="12.28" fill="#d6efe2"/>
<text x="488.08" y="77.4" font-size="6.67" text-anchor="middle" fill="#1a1a1a">20.3</text>
<rect x="498.41" y="69.46" width="20.86" height="12.28" fill="#e1f3e9"/>
<text x="508.84" y="77.4" font-size="6.67" text-anchor="middle" fill="#1a1a1a">15.2</text>
<rect x="519.18" y="69.46" width="20.86" height="12.28" fill="#f6fbf9"/>
<text x="529.61" y="77.4" font-size="6.67" text-anchor="middle" fill="#1a1a1a">4.5</text>
<rect x="539.94" y="69.46" width="20.86" height="12.28" fill="#f0f9f4"/>
<text x="550.37" y="77.4" font-size="6.67" text-anchor="middle" fill="#1a1a1a">7.7</text>
<rect x="560.7" y="69.46" width="20.86" height="12.28" fill="#f3faf6"/>
<text x="571.13" y="77.4" font-size="6.67" text-anchor="middle" fill="#1a1a1a">6.0</text>
<rect x="581.46" y="69.46" width="20.86" height="12.28" fill="#ebf7f1"/>
<text x="591.89" y="77.4" font-size="6.67" text-anchor="middle" fill="#1a1a1a">9.8</text>
<rect x="602.23" y="69.46" width="20.86" height="12.28" fill="#dbf1e5"/>
<text x="612.66" y="77.4" font-size="6.67" text-anchor="middle" fill="#1a1a1a">18.1</text>
<rect x="622.99" y="69.46" width="20.86" height="12.28" fill="#dbf0e5"/>
<text x="633.42" y="77.4" font-size="6.67" text-anchor="middle" fill="#1a1a1a">18.2</text>
<text x="473.1" y="77.35" font-size="6.72" text-anchor="end" fill="#1a1a1a">Improper bike parking</text>
<line x1="475.1" y1="75.6" x2="477.6" y2="75.6" stroke="#111" stroke-width="0.75"/>
<rect x="477.65" y="81.64" width="20.86" height="12.28" fill="#e1f3ea"/>
<text x="488.08" y="89.58" font-size="6.67" text-anchor="middle" fill="#1a1a1a">14.8</text>
<rect x="498.41" y="81.64" width="20.86" height="12.28" fill="#ecf8f2"/>
<text x="508.84" y="89.58" font-size="6.67" text-anchor="middle" fill="#1a1a1a">9.3</text>
<rect x="519.18" y="81.64" width="20.86" height="12.28" fill="#e0f3e9"/>
<text x="529.61" y="89.58" font-size="6.67" text-anchor="middle" fill="#1a1a1a">15.6</text>
<rect x="539.94" y="81.64" width="20.86" height="12.28" fill="#e9f6ef"/>
<text x="550.37" y="89.58" font-size="6.67" text-anchor="middle" fill="#1a1a1a">11.0</text>
<rect x="560.7" y="81.64" width="20.86" height="12.28" fill="#ecf8f2"/>
<text x="571.13" y="89.58" font-size="6.67" text-anchor="middle" fill="#1a1a1a">9.3</text>
<rect x="581.46" y="81.64" width="20.86" height="12.28" fill="#d5eee1"/>
<text x="591.89" y="89.58" font-size="6.67" text-anchor="middle" fill="#1a1a1a">20.8</text>
<rect x="602.23" y="81.64" width="20.86" height="12.28" fill="#eff9f4"/>
<text x="612.66" y="89.58" font-size="6.67" text-anchor="middle" fill="#1a1a1a">7.9</text>
<rect x="622.99" y="81.64" width="20.86" height="12.28" fill="#e9f6ef"/>
<text x="633.42" y="89.58" font-size="6.67" text-anchor="middle" fill="#1a1a1a">11.2</text>
<text x="473.1" y="89.53" font-size="6.72" text-anchor="end" fill="#1a1a1a">Jaywalking</text>
<line x1="475.1" y1="87.78" x2="477.6" y2="87.78" stroke="#111" stroke-width="0.75"/>
<rect x="477.65" y="93.82" width="20.86" height="12.28" fill="#83cea6"/>
<text x="488.08" y="101.76" font-size="6.67" text-anchor="middle" fill="#1a1a1a">61.8</text>
<rect x="498.41" y="93.82" width="20.86" height="12.28" fill="#dcf1e6"/>
<text x="508.84" y="101.76" font-size="6.67" text-anchor="middle" fill="#1a1a1a">17.6</text>
<text x="529.61" y="101.76" font-size="6.67" text-anchor="middle" fill="#1a1a1a">0.0</text>
<text x="550.37" y="101.76" font-size="6.67" text-anchor="middle" fill="#1a1a1a">0.0</text>
<text x="571.13" y="101.76" font-size="6.67" text-anchor="middle" fill="#1a1a1a">0.0</text>
<rect x="581.46" y="93.82" width="20.86" height="12.28" fill="#edf8f2"/>
<text x="591.89" y="101.76" font-size="6.67" text-anchor="middle" fill="#1a1a1a">8.8</text>
<rect x="602.23" y="93.82" width="20.86" height="12.28" fill="#e7f6ee"/>
<text x="612.66" y="101.76" font-size="6.67" text-anchor="middle" fill="#1a1a1a">11.8</text>
<text x="633.42" y="101.76" font-size="6.67" text-anchor="middle" fill="#1a1a1a">0.0</text>
<text x="473.1" y="101.71" font-size="6.72" text-anchor="end" fill="#1a1a1a">Making calls while riding</text>
<line x1="475.1" y1="99.96" x2="477.6" y2="99.96" stroke="#111" stroke-width="0.75"/>
<rect x="477.65" y="106" width="20.86" height="12.28" fill="#e3f4eb"/>
<text x="488.08" y="113.94" font-size="6.67" text-anchor="middle" fill="#1a1a1a">14.0</text>
<rect x="498.41" y="106" width="20.86" height="12.28" fill="#c9ead8"/>
<text x="508.84" y="113.94" font-size="6.67" text-anchor="middle" fill="#1a1a1a">26.8</text>
<rect x="519.18" y="106" width="20.86" height="12.28" fill="#e6f5ed"/>
<text x="529.61" y="113.94" font-size="6.67" text-anchor="middle" fill="#1a1a1a">12.5</text>
<rect x="539.94" y="106" width="20.86" height="12.28" fill="#e9f6ef"/>
<text x="550.37" y="113.94" font-size="6.67" text-anchor="middle" fill="#1a1a1a">10.9</text>
<rect x="560.7" y="106" width="20.86" height="12.28" fill="#edf8f2"/>
<text x="571.13" y="113.94" font-size="6.67" text-anchor="middle" fill="#1a1a1a">8.8</text>
<rect x="581.46" y="106" width="20.86" height="12.28" fill="#e7f5ed"/>
<text x="591.89" y="113.94" font-size="6.67" text-anchor="middle" fill="#1a1a1a">12.2</text>
<rect x="602.23" y="106" width="20.86" height="12.28" fill="#f1f9f5"/>
<text x="612.66" y="113.94" font-size="6.67" text-anchor="middle" fill="#1a1a1a">7.2</text>
<rect x="622.99" y="106" width="20.86" height="12.28" fill="#f0f9f4"/>
<text x="633.42" y="113.94" font-size="6.67" text-anchor="middle" fill="#1a1a1a">7.7</text>
<text x="473.1" y="113.89" font-size="6.72" text-anchor="end" fill="#1a1a1a">Not wearing a helmet</text>
<line x1="475.1" y1="112.14" x2="477.6" y2="112.14" stroke="#111" stroke-width="0.75"/>
<rect x="477.65" y="118.17" width="20.86" height="12.28" fill="#def2e7"/>
<text x="488.08" y="126.11" font-size="6.67" text-anchor="middle" fill="#1a1a1a">16.7</text>
<rect x="498.41" y="118.17" width="20.86" height="12.28" fill="#eef8f3"/>
<text x="508.84" y="126.11" font-size="6.67" text-anchor="middle" fill="#1a1a1a">8.3</text>
<rect x="519.18" y="118.17" width="20.86" height="12.28" fill="#b3e1c8"/>
<text x="529.61" y="126.11" font-size="6.67" text-anchor="middle" fill="#1a1a1a">38.1</text>
<rect x="539.94" y="118.17" width="20.86" height="12.28" fill="#f1f9f5"/>
<text x="550.37" y="126.11" font-size="6.67" text-anchor="middle" fill="#1a1a1a">7.1</text>
<rect x="560.7" y="118.17" width="20.86" height="12.28" fill="#ecf7f1"/>
<text x="571.13" y="126.11" font-size="6.67" text-anchor="middle" fill="#1a1a1a">9.5</text>
<rect x="581.46" y="118.17" width="20.86" height="12.28" fill="#f3faf6"/>
<text x="591.89" y="126.11" font-size="6.67" text-anchor="middle" fill="#1a1a1a">6.0</text>
<text x="612.66" y="126.11" font-size="6.67" text-anchor="middle" fill="#1a1a1a">0.0</text>
<rect x="622.99" y="118.17" width="20.86" height="12.28" fill="#e2f4ea"/>
<text x="633.42" y="126.11" font-size="6.67" text-anchor="middle" fill="#1a1a1a">14.3</text>
<text x="473.1" y="126.06" font-size="6.72" text-anchor="end" fill="#1a1a1a">Riding in parallel</text>
<line x1="475.1" y1="124.31" x2="477.6" y2="124.31" stroke="#111" stroke-width="0.75"/>
<rect x="477.65" y="130.35" width="20.86" height="12.28" fill="#dff2e8"/>
<text x="488.08" y="138.29" font-size="6.67" text-anchor="middle" fill="#1a1a1a">16.2</text>
<rect x="498.41" y="130.35" width="20.86" height="12.28" fill="#bbe4ce"/>
<text x="508.84" y="138.29" font-size="6.67" text-anchor="middle" fill="#1a1a1a">34.0</text>
<rect x="519.18" y="130.35" width="20.86" height="12.28" fill="#dff2e8"/>
<text x="529.61" y="138.29" font-size="6.67" text-anchor="middle" fill="#1a1a1a">16.2</text>
<rect x="539.94" y="130.35" width="20.86" height="12.28" fill="#fbfdfc"/>
<text x="550.37" y="138.29" font-size="6.67" text-anchor="middle" fill="#1a1a1a">2.1</text>
<rect x="560.7" y="130.35" width="20.86" height="12.28" fill="#f0f9f4"/>
<text x="571.13" y="138.29" font-size="6.67" text-anchor="middle" fill="#1a1a1a">7.7</text>
<rect x="581.46" y="130.35" width="20.86" height="12.28" fill="#d9f0e4"/>
<text x="591.89" y="138.29" font-size="6.67" text-anchor="middle" fill="#1a1a1a">19.0</text>
<rect x="602.23" y="130.35" width="20.86" height="12.28" fill="#fcfefd"/>
<text x="612.66" y="138.29" font-size="6.67" text-anchor="middle" fill="#1a1a1a">1.6</text>
<rect x="622.99" y="130.35" width="20.86" height="12.28" fill="#f9fcfa"/>
<text x="633.42" y="138.29" font-size="6.67" text-anchor="middle" fill="#1a1a1a">3.2</text>
<text x="473.1" y="138.24" font-size="6.72" text-anchor="end" fill="#1a1a1a">Riding on motorway</text>
<line x1="475.1" y1="136.49" x2="477.6" y2="136.49" stroke="#111" stroke-width="0.75"/>
<rect x="477.65" y="142.53" width="20.86" height="12.28" fill="#ddf2e7"/>
<text x="488.08" y="150.47" font-size="6.67" text-anchor="middle" fill="#1a1a1a">16.8</text>
<rect x="498.41" y="142.53" width="20.86" height="12.28" fill="#d1edde"/>
<text x="508.84" y="150.47" font-size="6.67" text-anchor="middle" fill="#1a1a1a">23.0</text>
<rect x="519.18" y="142.53" width="20.86" height="12.28" fill="#fbfdfc"/>
<text x="529.61" y="150.47" font-size="6.67" text-anchor="middle" fill="#1a1a1a">1.9</text>
<rect x="539.94" y="142.53" width="20.86" height="12.28" fill="#eaf7f0"/>
<text x="550.37" y="150.47" font-size="6.67" text-anchor="middle" fill="#1a1a1a">10.6</text>
<rect x="560.7" y="142.53" width="20.86" height="12.28" fill="#f7fcf9"/>
<text x="571.13" y="150.47" font-size="6.67" text-anchor="middle" fill="#1a1a1a">3.9</text>
<rect x="581.46" y="142.53" width="20.86" height="12.28" fill="#eef8f3"/>
<text x="591.89" y="150.47" font-size="6.67" text-anchor="middle" fill="#1a1a1a">8.5</text>
<rect x="602.23" y="142.53" width="20.86" height="12.28" fill="#c8e9d7"/>
<text x="612.66" y="150.47" font-size="6.67" text-anchor="middle" fill="#1a1a1a">27.7</text>
<rect x="622.99" y="142.53" width="20.86" height="12.28" fill="#f0f9f4"/>
<text x="633.42" y="150.47" font-size="6.67" text-anchor="middle" fill="#1a1a1a">7.7</text>
<text x="473.1" y="150.42" font-size="6.72" text-anchor="end" fill="#1a1a1a">Riding on sidewalk</text>
<line x1="475.1" y1="148.67" x2="477.6" y2="148.67" stroke="#111" stroke-width="0.75"/>
<text x="488.08" y="162.65" font-size="6.67" text-anchor="middle" fill="#1a1a1a">0.0</text>
<rect x="498.41" y="154.71" width="20.86" height="12.28" fill="#f3faf7"/>
<text x="508.84" y="162.65" font-size="6.67" text-anchor="middle" fill="#1a1a1a">5.9</text>
<rect x="519.18" y="154.71" width="20.86" height="12.28" fill="#dcf1e6"/>
<text x="529.61" y="162.65" font-size="6.67" text-anchor="middle" fill="#1a1a1a">17.6</text>
<rect x="539.94" y="154.71" width="20.86" height="12.28" fill="#b8e3cc"/>
<text x="550.37" y="162.65" font-size="6.67" text-anchor="middle" fill="#1a1a1a">35.3</text>
<text x="571.13" y="162.65" font-size="6.67" text-anchor="middle" fill="#1a1a1a">0.0</text>
<rect x="581.46" y="154.71" width="20.86" height="12.28" fill="#f3faf7"/>
<text x="591.89" y="162.65" font-size="6.67" text-anchor="middle" fill="#1a1a1a">5.9</text>
<text x="612.66" y="162.65" font-size="6.67" text-anchor="middle" fill="#1a1a1a">0.0</text>
<rect x="622.99" y="154.71" width="20.86" height="12.28" fill="#b8e3cc"/>
<text x="633.42" y="162.65" font-size="6.67" text-anchor="middle" fill="#1a1a1a">35.3</text>
<text x="473.1" y="162.6" font-size="6.72" text-anchor="end" fill="#1a1a1a">Talking while riding</text>
<line x1="475.1" y1="160.85" x2="477.6" y2="160.85" stroke="#111" stroke-width="0.75"/>
<rect x="477.65" y="166.89" width="20.86" height="12.28" fill="#e2f4ea"/>
<text x="488.08" y="174.83" font-size="6.67" text-anchor="middle" fill="#1a1a1a">14.3</text>
<rect x="498.41" y="166.89" width="20.86" height="12.28" fill="#c5e8d5"/>
<text x="508.84" y="174.83" font-size="6.67" text-anchor="middle" fill="#1a1a1a">29.1</text>
<rect x="519.18" y="166.89" width="20.86" height="12.28" fill="#e9f6ef"/>
<text x="529.61" y="174.83" font-size="6.67" text-anchor="middle" fill="#1a1a1a">10.9</text>
<rect x="539.94" y="166.89" width="20.86" height="12.28" fill="#f1f9f5"/>
<text x="550.37" y="174.83" font-size="6.67" text-anchor="middle" fill="#1a1a1a">7.1</text>
<rect x="560.7" y="166.89" width="20.86" height="12.28" fill="#ecf7f1"/>
<text x="571.13" y="174.83" font-size="6.67" text-anchor="middle" fill="#1a1a1a">9.4</text>
<rect x="581.46" y="166.89" width="20.86" height="12.28" fill="#e5f5ec"/>
<text x="591.89" y="174.83" font-size="6.67" text-anchor="middle" fill="#1a1a1a">12.9</text>
<rect x="602.23" y="166.89" width="20.86" height="12.28" fill="#ecf7f1"/>
<text x="612.66" y="174.83" font-size="6.67" text-anchor="middle" fill="#1a1a1a">9.7</text>
<rect x="622.99" y="166.89" width="20.86" height="12.28" fill="#f2faf5"/>
<text x="633.42" y="174.83" font-size="6.67" text-anchor="middle" fill="#1a1a1a">6.7</text>
<text x="473.1" y="174.78" font-size="6.72" text-anchor="end" fill="#1a1a1a">Traveling against traffic</text>
<line x1="475.1" y1="173.03" x2="477.6" y2="173.03" stroke="#111" stroke-width="0.75"/>
<rect x="477.65" y="179.07" width="20.86" height="12.28" fill="#e8f6ee"/>
<text x="488.08" y="187" font-size="6.67" text-anchor="middle" fill="#1a1a1a">11.6</text>
<rect x="498.41" y="179.07" width="20.86" height="12.28" fill="#cbeada"/>
<text x="508.84" y="187" font-size="6.67" text-anchor="middle" fill="#1a1a1a">26.0</text>
<rect x="519.18" y="179.07" width="20.86" height="12.28" fill="#f7fcf9"/>
<text x="529.61" y="187" font-size="6.67" text-anchor="middle" fill="#1a1a1a">4.1</text>
<rect x="539.94" y="179.07" width="20.86" height="12.28" fill="#daf0e4"/>
<text x="550.37" y="187" font-size="6.67" text-anchor="middle" fill="#1a1a1a">18.5</text>
<rect x="560.7" y="179.07" width="20.86" height="12.28" fill="#dbf1e5"/>
<text x="571.13" y="187" font-size="6.67" text-anchor="middle" fill="#1a1a1a">17.8</text>
<text x="591.89" y="187" font-size="6.67" text-anchor="middle" fill="#1a1a1a">0.0</text>
<rect x="602.23" y="179.07" width="20.86" height="12.28" fill="#dff2e8"/>
<text x="612.66" y="187" font-size="6.67" text-anchor="middle" fill="#1a1a1a">15.8</text>
<rect x="622.99" y="179.07" width="20.86" height="12.28" fill="#f3faf6"/>
<text x="633.42" y="187" font-size="6.67" text-anchor="middle" fill="#1a1a1a">6.2</text>
<text x="473.1" y="186.95" font-size="6.72" text-anchor="end" fill="#1a1a1a">Using a cell phone while riding</text>
<line x1="475.1" y1="185.2" x2="477.6" y2="185.2" stroke="#111" stroke-width="0.75"/>
<rect x="477.65" y="191.24" width="20.86" height="12.28" fill="#f0f9f4"/>
<text x="488.08" y="199.18" font-size="6.67" text-anchor="middle" fill="#1a1a1a">7.4</text>
<rect x="498.41" y="191.24" width="20.86" height="12.28" fill="#e3f4eb"/>
<text x="508.84" y="199.18" font-size="6.67" text-anchor="middle" fill="#1a1a1a">13.9</text>
<rect x="519.18" y="191.24" width="20.86" height="12.28" fill="#dcf1e6"/>
<text x="529.61" y="199.18" font-size="6.67" text-anchor="middle" fill="#1a1a1a">17.6</text>
<rect x="539.94" y="191.24" width="20.86" height="12.28" fill="#dbf1e5"/>
<text x="550.37" y="199.18" font-size="6.67" text-anchor="middle" fill="#1a1a1a">17.8</text>
<rect x="560.7" y="191.24" width="20.86" height="12.28" fill="#eaf7f0"/>
<text x="571.13" y="199.18" font-size="6.67" text-anchor="middle" fill="#1a1a1a">10.4</text>
<rect x="581.46" y="191.24" width="20.86" height="12.28" fill="#d8efe3"/>
<text x="591.89" y="199.18" font-size="6.67" text-anchor="middle" fill="#1a1a1a">19.5</text>
<rect x="602.23" y="191.24" width="20.86" height="12.28" fill="#f4fbf7"/>
<text x="612.66" y="199.18" font-size="6.67" text-anchor="middle" fill="#1a1a1a">5.6</text>
<rect x="622.99" y="191.24" width="20.86" height="12.28" fill="#eff9f4"/>
<text x="633.42" y="199.18" font-size="6.67" text-anchor="middle" fill="#1a1a1a">7.8</text>
<text x="473.1" y="199.13" font-size="6.72" text-anchor="end" fill="#1a1a1a">Vehicle stoping at the crosswalk</text>
<line x1="475.1" y1="197.38" x2="477.6" y2="197.38" stroke="#111" stroke-width="0.75"/>
<rect x="477.65" y="203.42" width="20.86" height="12.28" fill="#82cda5"/>
<text x="488.08" y="211.36" font-size="6.67" text-anchor="middle" fill="#1a1a1a">62.5</text>
<rect x="498.41" y="203.42" width="20.86" height="12.28" fill="#d9f0e4"/>
<text x="508.84" y="211.36" font-size="6.67" text-anchor="middle" fill="#1a1a1a">18.8</text>
<text x="529.61" y="211.36" font-size="6.67" text-anchor="middle" fill="#1a1a1a">0.0</text>
<text x="550.37" y="211.36" font-size="6.67" text-anchor="middle" fill="#1a1a1a">0.0</text>
<text x="571.13" y="211.36" font-size="6.67" text-anchor="middle" fill="#1a1a1a">0.0</text>
<text x="591.89" y="211.36" font-size="6.67" text-anchor="middle" fill="#1a1a1a">0.0</text>
<text x="612.66" y="211.36" font-size="6.67" text-anchor="middle" fill="#1a1a1a">0.0</text>
<rect x="622.99" y="203.42" width="20.86" height="12.28" fill="#d9f0e4"/>
<text x="633.42" y="211.36" font-size="6.67" text-anchor="middle" fill="#1a1a1a">18.8</text>
<text x="473.1" y="211.31" font-size="6.72" text-anchor="end" fill="#1a1a1a">Wearing headphones while riding</text>
<line x1="475.1" y1="209.56" x2="477.6" y2="209.56" stroke="#111" stroke-width="0.75"/>
<line x1="488.08" y1="215.85" x2="488.08" y2="218.45" stroke="#111" stroke-width="0.75"/>
<text x="487.28" y="223.05" font-size="6.67" text-anchor="end" fill="#1a1a1a" transform="rotate(-45 487.28 223.05)">Spring Midday Peak</text>
<line x1="508.84" y1="215.85" x2="508.84" y2="218.45" stroke="#111" stroke-width="0.75"/>
<text x="508.04" y="223.05" font-size="6.67" text-anchor="end" fill="#1a1a1a" transform="rotate(-45 508.04 223.05)">Spring PM Peak</text>
<line x1="529.61" y1="215.85" x2="529.61" y2="218.45" stroke="#111" stroke-width="0.75"/>
<text x="528.81" y="223.05" font-size="6.67" text-anchor="end" fill="#1a1a1a" transform="rotate(-45 528.81 223.05)">Summer Midday Peak</text>
<line x1="550.37" y1="215.85" x2="550.37" y2="218.45" stroke="#111" stroke-width="0.75"/>
<text x="549.57" y="223.05" font-size="6.67" text-anchor="end" fill="#1a1a1a" transform="rotate(-45 549.57 223.05)">Summer PM Peak</text>
<line x1="571.13" y1="215.85" x2="571.13" y2="218.45" stroke="#111" stroke-width="0.75"/>
<text x="570.33" y="223.05" font-size="6.67" text-anchor="end" fill="#1a1a1a" transform="rotate(-45 570.33 223.05)">Autumn Midday Peak</text>
<line x1="591.89" y1="215.85" x2="591.89" y2="218.45" stroke="#111" stroke-width="0.75"/>
<text x="591.09" y="223.05" font-size="6.67" text-anchor="end" fill="#1a1a1a" transform="rotate(-45 591.09 223.05)">Autumn PM Peak</text>
<line x1="612.66" y1="215.85" x2="612.66" y2="218.45" stroke="#111" stroke-width="0.75"/>
<text x="611.86" y="223.05" font-size="6.67" text-anchor="end" fill="#1a1a1a" transform="rotate(-45 611.86 223.05)">Winter Midday Peak</text>
<line x1="633.42" y1="215.85" x2="633.42" y2="218.45" stroke="#111" stroke-width="0.75"/>
<text x="632.62" y="223.05" font-size="6.67" text-anchor="end" fill="#1a1a1a" transform="rotate(-45 632.62 223.05)">Winter PM Peak</text>
<text x="560.75" y="274.9" font-size="6.67" text-anchor="middle" fill="#1a1a1a">Season and Time Period</text>
<text x="342.3" y="118.23" font-size="6.8" text-anchor="middle" fill="#1a1a1a" transform="rotate(-90 342.3 118.23)">Violation Type</text>
<defs><linearGradient id="gb" x1="0" y1="1" x2="0" y2="0"><stop offset="0" stop-color="#ffffff"/><stop offset="1" stop-color="#82cda5"/></linearGradient></defs>
<rect x="654.3" y="20.5" width="9.8" height="195.15" fill="url(#gb)"/>
<line x1="664.2" y1="215.65" x2="666.8" y2="215.65" stroke="#111" stroke-width="0.75"/>
<text x="669" y="217.95" font-size="6.67" text-anchor="start" fill="#1a1a1a">0</text>
<line x1="664.2" y1="184.47" x2="666.8" y2="184.47" stroke="#111" stroke-width="0.75"/>
<text x="669" y="186.77" font-size="6.67" text-anchor="start" fill="#1a1a1a">10</text>
<line x1="664.2" y1="153.3" x2="666.8" y2="153.3" stroke="#111" stroke-width="0.75"/>
<text x="669" y="155.6" font-size="6.67" text-anchor="start" fill="#1a1a1a">20</text>
<line x1="664.2" y1="122.12" x2="666.8" y2="122.12" stroke="#111" stroke-width="0.75"/>
<text x="669" y="124.42" font-size="6.67" text-anchor="start" fill="#1a1a1a">30</text>
<line x1="664.2" y1="90.95" x2="666.8" y2="90.95" stroke="#111" stroke-width="0.75"/>
<text x="669" y="93.25" font-size="6.67" text-anchor="start" fill="#1a1a1a">40</text>
<line x1="664.2" y1="59.77" x2="666.8" y2="59.77" stroke="#111" stroke-width="0.75"/>
<text x="669" y="62.07" font-size="6.67" text-anchor="start" fill="#1a1a1a">50</text>
<line x1="664.2" y1="28.59" x2="666.8" y2="28.59" stroke="#111" stroke-width="0.75"/>
<text x="669" y="30.89" font-size="6.67" text-anchor="start" fill="#1a1a1a">60</text>
<text x="682" y="118.23" font-size="6.8" text-anchor="middle" fill="#1a1a1a" transform="rotate(-90 682 118.23)">Percentage (%)</text>
<text x="160.8" y="312" font-size="9" text-anchor="middle" fill="#1a1a1a">c.Gender-Age Distribution by Carrier Type</text>
<text x="67.5" y="325.6" font-size="6.4" text-anchor="middle" fill="#1a1a1a" style="stroke-width:0.12px;">Pedestrian</text>
<rect x="31.69" y="394.28" width="9.97" height="0.22" fill="#959ecc" stroke="#1a1a1a" stroke-width="0.7"/>
<rect x="31.69" y="393.12" width="9.97" height="1.16" fill="#aaaaaa" stroke="#1a1a1a" stroke-width="0.7"/>
<text x="36.67" y="385.3" font-size="5.4" text-anchor="middle" fill="#1a1a1a" style="stroke-width:0.2px;">53</text>
<line x1="33.97" y1="386.05" x2="39.38" y2="386.05" stroke="#222" stroke-width="0.5"/>
<text x="36.67" y="390.9" font-size="5.4" text-anchor="middle" fill="#1a1a1a" style="stroke-width:0.2px;">10</text>
<rect x="52.24" y="390.85" width="9.97" height="3.65" fill="#959ecc" stroke="#1a1a1a" stroke-width="0.7"/>
<rect x="52.24" y="381.4" width="9.97" height="9.45" fill="#aaaaaa" stroke="#1a1a1a" stroke-width="0.7"/>
<text x="57.23" y="394.08" font-size="5.4" text-anchor="middle" fill="#1a1a1a" style="stroke-width:0.2px;">167</text>
<text x="57.23" y="387.63" font-size="5.4" text-anchor="middle" fill="#1a1a1a" style="stroke-width:0.2px;">433</text>
<rect x="72.79" y="381.62" width="9.97" height="12.88" fill="#959ecc" stroke="#1a1a1a" stroke-width="0.7"/>
<rect x="72.79" y="335.17" width="9.97" height="46.45" fill="#aaaaaa" stroke="#1a1a1a" stroke-width="0.7"/>
<text x="77.78" y="389.46" font-size="5.4" text-anchor="middle" fill="#1a1a1a" style="stroke-width:0.2px;">590</text>
<text x="77.78" y="359.89" font-size="5.4" text-anchor="middle" fill="#1a1a1a" style="stroke-width:0.2px;">2128</text>
<rect x="93.34" y="394.19" width="9.97" height="0.31" fill="#959ecc" stroke="#1a1a1a" stroke-width="0.7"/>
<rect x="93.34" y="393.08" width="9.97" height="1.11" fill="#aaaaaa" stroke="#1a1a1a" stroke-width="0.7"/>
<text x="98.32" y="385.3" font-size="5.4" text-anchor="middle" fill="#1a1a1a" style="stroke-width:0.2px;">51</text>
<line x1="95.62" y1="386.05" x2="101.02" y2="386.05" stroke="#222" stroke-width="0.5"/>
<text x="98.32" y="390.9" font-size="5.4" text-anchor="middle" fill="#1a1a1a" style="stroke-width:0.2px;">14</text>
<line x1="26.4" y1="332.2" x2="26.4" y2="394.9" stroke="#1a1a1a" stroke-width="0.8"/>
<line x1="26" y1="394.5" x2="108.6" y2="394.5" stroke="#1a1a1a" stroke-width="0.8"/>
<line x1="23.8" y1="394.5" x2="26.4" y2="394.5" stroke="#1a1a1a" stroke-width="0.6"/>
<text x="22.2" y="396.65" font-size="6.45" text-anchor="end" fill="#1a1a1a" style="stroke-width:0.12px;">0</text>
<line x1="23.8" y1="372.67" x2="26.4" y2="372.67" stroke="#1a1a1a" stroke-width="0.6"/>
<text x="22.2" y="374.82" font-size="6.45" text-anchor="end" fill="#1a1a1a" style="stroke-width:0.12px;">1000</text>
<line x1="23.8" y1="350.84" x2="26.4" y2="350.84" stroke="#1a1a1a" stroke-width="0.6"/>
<text x="22.2" y="352.99" font-size="6.45" text-anchor="end" fill="#1a1a1a" style="stroke-width:0.12px;">2000</text>
<line x1="36.67" y1="394.5" x2="36.67" y2="397.1" stroke="#1a1a1a" stroke-width="0.6"/>
<text x="36.07" y="402.8" font-size="6.67" text-anchor="end" fill="#1a1a1a" transform="rotate(-45 36.07 402.8)">Children</text>
<line x1="57.23" y1="394.5" x2="57.23" y2="397.1" stroke="#1a1a1a" stroke-width="0.6"/>
<text x="56.62" y="402.8" font-size="6.67" text-anchor="end" fill="#1a1a1a" transform="rotate(-45 56.62 402.8)">Youth</text>
<line x1="77.78" y1="394.5" x2="77.78" y2="397.1" stroke="#1a1a1a" stroke-width="0.6"/>
<text x="77.18" y="402.8" font-size="6.67" text-anchor="end" fill="#1a1a1a" transform="rotate(-45 77.18 402.8)">Middle-aged</text>
<line x1="98.32" y1="394.5" x2="98.32" y2="397.1" stroke="#1a1a1a" stroke-width="0.6"/>
<text x="97.72" y="402.8" font-size="6.67" text-anchor="end" fill="#1a1a1a" transform="rotate(-45 97.72 402.8)">Elderly</text>
<text x="67.5" y="432.4" font-size="5.2" text-anchor="middle" fill="#1a1a1a" style="stroke-width:0.2px;">Age Group</text>
<text x="6" y="363.35" font-size="5.3" text-anchor="middle" fill="#1a1a1a" transform="rotate(-90 6 363.35)" style="stroke-width:0.2px;">Count</text>
<text x="192.7" y="325.6" font-size="6.4" text-anchor="middle" fill="#1a1a1a" style="stroke-width:0.12px;">Ebike</text>
<rect x="156.89" y="394.45" width="9.97" height="0.05" fill="#959ecc" stroke="#1a1a1a" stroke-width="0.7"/>
<rect x="156.89" y="394.26" width="9.97" height="0.19" fill="#aaaaaa" stroke="#1a1a1a" stroke-width="0.7"/>
<text x="161.88" y="385.3" font-size="5.4" text-anchor="middle" fill="#1a1a1a" style="stroke-width:0.2px;">25</text>
<line x1="159.18" y1="386.05" x2="164.57" y2="386.05" stroke="#222" stroke-width="0.5"/>
<text x="161.88" y="390.9" font-size="5.4" text-anchor="middle" fill="#1a1a1a" style="stroke-width:0.2px;">6</text>
<rect x="177.44" y="390.01" width="9.97" height="4.49" fill="#959ecc" stroke="#1a1a1a" stroke-width="0.7"/>
<rect x="177.44" y="379.11" width="9.97" height="10.89" fill="#aaaaaa" stroke="#1a1a1a" stroke-width="0.7"/>
<text x="182.43" y="393.65" font-size="5.4" text-anchor="middle" fill="#1a1a1a" style="stroke-width:0.2px;">582</text>
<text x="182.43" y="386.06" font-size="5.4" text-anchor="middle" fill="#1a1a1a" style="stroke-width:0.2px;">1412</text>
<rect x="197.99" y="377.64" width="9.97" height="16.86" fill="#959ecc" stroke="#1a1a1a" stroke-width="0.7"/>
<rect x="197.99" y="335.17" width="9.97" height="42.47" fill="#aaaaaa" stroke="#1a1a1a" stroke-width="0.7"/>
<text x="202.97" y="387.47" font-size="5.4" text-anchor="middle" fill="#1a1a1a" style="stroke-width:0.2px;">2185</text>
<text x="202.97" y="357.9" font-size="5.4" text-anchor="middle" fill="#1a1a1a" style="stroke-width:0.2px;">5505</text>
<rect x="218.54" y="394.23" width="9.97" height="0.27" fill="#959ecc" stroke="#1a1a1a" stroke-width="0.7"/>
<rect x="218.54" y="393.63" width="9.97" height="0.6" fill="#aaaaaa" stroke="#1a1a1a" stroke-width="0.7"/>
<text x="223.52" y="385.3" font-size="5.4" text-anchor="middle" fill="#1a1a1a" style="stroke-width:0.2px;">78</text>
<line x1="220.82" y1="386.05" x2="226.22" y2="386.05" stroke="#222" stroke-width="0.5"/>
<text x="223.52" y="390.9" font-size="5.4" text-anchor="middle" fill="#1a1a1a" style="stroke-width:0.2px;">35</text>
<line x1="151.6" y1="332.2" x2="151.6" y2="394.9" stroke="#1a1a1a" stroke-width="0.8"/>
<line x1="151.2" y1="394.5" x2="233.8" y2="394.5" stroke="#1a1a1a" stroke-width="0.8"/>
<line x1="149" y1="394.5" x2="151.6" y2="394.5" stroke="#1a1a1a" stroke-width="0.6"/>
<text x="147.4" y="396.65" font-size="6.45" text-anchor="end" fill="#1a1a1a" style="stroke-width:0.12px;">0</text>
<line x1="149" y1="375.21" x2="151.6" y2="375.21" stroke="#1a1a1a" stroke-width="0.6"/>
<text x="147.4" y="377.36" font-size="6.45" text-anchor="end" fill="#1a1a1a" style="stroke-width:0.12px;">2500</text>
<line x1="149" y1="355.92" x2="151.6" y2="355.92" stroke="#1a1a1a" stroke-width="0.6"/>
<text x="147.4" y="358.07" font-size="6.45" text-anchor="end" fill="#1a1a1a" style="stroke-width:0.12px;">5000</text>
<line x1="149" y1="336.63" x2="151.6" y2="336.63" stroke="#1a1a1a" stroke-width="0.6"/>
<text x="147.4" y="338.78" font-size="6.45" text-anchor="end" fill="#1a1a1a" style="stroke-width:0.12px;">7500</text>
<line x1="161.88" y1="394.5" x2="161.88" y2="397.1" stroke="#1a1a1a" stroke-width="0.6"/>
<text x="161.28" y="402.8" font-size="6.67" text-anchor="end" fill="#1a1a1a" transform="rotate(-45 161.28 402.8)">Children</text>
<line x1="182.43" y1="394.5" x2="182.43" y2="397.1" stroke="#1a1a1a" stroke-width="0.6"/>
<text x="181.83" y="402.8" font-size="6.67" text-anchor="end" fill="#1a1a1a" transform="rotate(-45 181.83 402.8)">Youth</text>
<line x1="202.97" y1="394.5" x2="202.97" y2="397.1" stroke="#1a1a1a" stroke-width="0.6"/>
<text x="202.38" y="402.8" font-size="6.67" text-anchor="end" fill="#1a1a1a" transform="rotate(-45 202.38 402.8)">Middle-aged</text>
<line x1="223.52" y1="394.5" x2="223.52" y2="397.1" stroke="#1a1a1a" stroke-width="0.6"/>
<text x="222.92" y="402.8" font-size="6.67" text-anchor="end" fill="#1a1a1a" transform="rotate(-45 222.92 402.8)">Elderly</text>
<text x="192.7" y="432.4" font-size="5.2" text-anchor="middle" fill="#1a1a1a" style="stroke-width:0.2px;">Age Group</text>
<text x="131.2" y="363.35" font-size="5.3" text-anchor="middle" fill="#1a1a1a" transform="rotate(-90 131.2 363.35)" style="stroke-width:0.2px;">Count</text>
<text x="317.5" y="325.6" font-size="6.4" text-anchor="middle" fill="#1a1a1a" style="stroke-width:0.12px;">DelieveryEbike</text>
<rect x="281.69" y="394.48" width="9.97" height="0.02" fill="#959ecc" stroke="#1a1a1a" stroke-width="0.7"/>
<rect x="281.69" y="394.23" width="9.97" height="0.25" fill="#aaaaaa" stroke="#1a1a1a" stroke-width="0.7"/>
<text x="286.67" y="385.3" font-size="5.4" text-anchor="middle" fill="#1a1a1a" style="stroke-width:0.2px;">11</text>
<line x1="283.97" y1="386.05" x2="289.37" y2="386.05" stroke="#222" stroke-width="0.5"/>
<text x="286.67" y="390.9" font-size="5.4" text-anchor="middle" fill="#1a1a1a" style="stroke-width:0.2px;">1</text>
<rect x="302.24" y="391.57" width="9.97" height="2.93" fill="#959ecc" stroke="#1a1a1a" stroke-width="0.7"/>
<rect x="302.24" y="382.25" width="9.97" height="9.32" fill="#aaaaaa" stroke="#1a1a1a" stroke-width="0.7"/>
<text x="307.22" y="394.44" font-size="5.4" text-anchor="middle" fill="#1a1a1a" style="stroke-width:0.2px;">131</text>
<text x="307.22" y="388.41" font-size="5.4" text-anchor="middle" fill="#1a1a1a" style="stroke-width:0.2px;">417</text>
<rect x="322.79" y="385.45" width="9.97" height="9.05" fill="#959ecc" stroke="#1a1a1a" stroke-width="0.7"/>
<rect x="322.79" y="335.17" width="9.97" height="50.28" fill="#aaaaaa" stroke="#1a1a1a" stroke-width="0.7"/>
<text x="327.77" y="391.37" font-size="5.4" text-anchor="middle" fill="#1a1a1a" style="stroke-width:0.2px;">405</text>
<text x="327.77" y="361.81" font-size="5.4" text-anchor="middle" fill="#1a1a1a" style="stroke-width:0.2px;">2250</text>
<rect x="343.34" y="394.28" width="9.97" height="0.22" fill="#959ecc" stroke="#1a1a1a" stroke-width="0.7"/>
<rect x="343.34" y="393.67" width="9.97" height="0.6" fill="#aaaaaa" stroke="#1a1a1a" stroke-width="0.7"/>
<text x="348.32" y="385.3" font-size="5.4" text-anchor="middle" fill="#1a1a1a" style="stroke-width:0.2px;">27</text>
<line x1="345.62" y1="386.05" x2="351.02" y2="386.05" stroke="#222" stroke-width="0.5"/>
<text x="348.32" y="390.9" font-size="5.4" text-anchor="middle" fill="#1a1a1a" style="stroke-width:0.2px;">10</text>
<line x1="276.4" y1="332.2" x2="276.4" y2="394.9" stroke="#1a1a1a" stroke-width="0.8"/>
<line x1="276" y1="394.5" x2="358.6" y2="394.5" stroke="#1a1a1a" stroke-width="0.8"/>
<line x1="273.8" y1="394.5" x2="276.4" y2="394.5" stroke="#1a1a1a" stroke-width="0.6"/>
<text x="272.2" y="396.65" font-size="6.45" text-anchor="end" fill="#1a1a1a" style="stroke-width:0.12px;">0</text>
<line x1="273.8" y1="372.15" x2="276.4" y2="372.15" stroke="#1a1a1a" stroke-width="0.6"/>
<text x="272.2" y="374.3" font-size="6.45" text-anchor="end" fill="#1a1a1a" style="stroke-width:0.12px;">1000</text>
<line x1="273.8" y1="349.8" x2="276.4" y2="349.8" stroke="#1a1a1a" stroke-width="0.6"/>
<text x="272.2" y="351.95" font-size="6.45" text-anchor="end" fill="#1a1a1a" style="stroke-width:0.12px;">2000</text>
<line x1="286.67" y1="394.5" x2="286.67" y2="397.1" stroke="#1a1a1a" stroke-width="0.6"/>
<text x="286.07" y="402.8" font-size="6.67" text-anchor="end" fill="#1a1a1a" transform="rotate(-45 286.07 402.8)">Children</text>
<line x1="307.22" y1="394.5" x2="307.22" y2="397.1" stroke="#1a1a1a" stroke-width="0.6"/>
<text x="306.62" y="402.8" font-size="6.67" text-anchor="end" fill="#1a1a1a" transform="rotate(-45 306.62 402.8)">Youth</text>
<line x1="327.77" y1="394.5" x2="327.77" y2="397.1" stroke="#1a1a1a" stroke-width="0.6"/>
<text x="327.17" y="402.8" font-size="6.67" text-anchor="end" fill="#1a1a1a" transform="rotate(-45 327.17 402.8)">Middle-aged</text>
<line x1="348.32" y1="394.5" x2="348.32" y2="397.1" stroke="#1a1a1a" stroke-width="0.6"/>
<text x="347.72" y="402.8" font-size="6.67" text-anchor="end" fill="#1a1a1a" transform="rotate(-45 347.72 402.8)">Elderly</text>
<text x="317.5" y="432.4" font-size="5.2" text-anchor="middle" fill="#1a1a1a" style="stroke-width:0.2px;">Age Group</text>
<text x="256" y="363.35" font-size="5.3" text-anchor="middle" fill="#1a1a1a" transform="rotate(-90 256 363.35)" style="stroke-width:0.2px;">Count</text>
<text x="67.5" y="446.5" font-size="6.4" text-anchor="middle" fill="#1a1a1a" style="stroke-width:0.12px;">Cyclist</text>
<rect x="31.69" y="515.31" width="9.97" height="0.09" fill="#aaaaaa" stroke="#1a1a1a" stroke-width="0.7"/>
<text x="36.67" y="506.2" font-size="5.4" text-anchor="middle" fill="#1a1a1a" style="stroke-width:0.2px;">1</text>
<line x1="35.32" y1="506.95" x2="38.02" y2="506.95" stroke="#222" stroke-width="0.5"/>
<text x="36.67" y="511.8" font-size="5.4" text-anchor="middle" fill="#1a1a1a" style="stroke-width:0.2px;">0</text>
<rect x="52.24" y="507.83" width="9.97" height="7.57" fill="#959ecc" stroke="#1a1a1a" stroke-width="0.7"/>
<rect x="52.24" y="492.15" width="9.97" height="15.69" fill="#aaaaaa" stroke="#1a1a1a" stroke-width="0.7"/>
<text x="57.23" y="513.02" font-size="5.4" text-anchor="middle" fill="#1a1a1a" style="stroke-width:0.2px;">82</text>
<text x="57.23" y="501.49" font-size="5.4" text-anchor="middle" fill="#1a1a1a" style="stroke-width:0.2px;">170</text>
<rect x="72.79" y="503.04" width="9.97" height="12.36" fill="#959ecc" stroke="#1a1a1a" stroke-width="0.7"/>
<rect x="72.79" y="456.07" width="9.97" height="46.97" fill="#aaaaaa" stroke="#1a1a1a" stroke-width="0.7"/>
<text x="77.78" y="510.62" font-size="5.4" text-anchor="middle" fill="#1a1a1a" style="stroke-width:0.2px;">134</text>
<text x="77.78" y="481.05" font-size="5.4" text-anchor="middle" fill="#1a1a1a" style="stroke-width:0.2px;">509</text>
<rect x="93.34" y="514.66" width="9.97" height="0.74" fill="#959ecc" stroke="#1a1a1a" stroke-width="0.7"/>
<rect x="93.34" y="513.55" width="9.97" height="1.11" fill="#aaaaaa" stroke="#1a1a1a" stroke-width="0.7"/>
<text x="98.32" y="506.2" font-size="5.4" text-anchor="middle" fill="#1a1a1a" style="stroke-width:0.2px;">12</text>
<line x1="95.62" y1="506.95" x2="101.02" y2="506.95" stroke="#222" stroke-width="0.5"/>
<text x="98.32" y="511.8" font-size="5.4" text-anchor="middle" fill="#1a1a1a" style="stroke-width:0.2px;">8</text>
<line x1="26.4" y1="453.1" x2="26.4" y2="515.8" stroke="#1a1a1a" stroke-width="0.8"/>
<line x1="26" y1="515.4" x2="108.6" y2="515.4" stroke="#1a1a1a" stroke-width="0.8"/>
<line x1="23.8" y1="515.4" x2="26.4" y2="515.4" stroke="#1a1a1a" stroke-width="0.6"/>
<text x="22.2" y="517.55" font-size="6.45" text-anchor="end" fill="#1a1a1a" style="stroke-width:0.12px;">0</text>
<line x1="23.8" y1="496.94" x2="26.4" y2="496.94" stroke="#1a1a1a" stroke-width="0.6"/>
<text x="22.2" y="499.09" font-size="6.45" text-anchor="end" fill="#1a1a1a" style="stroke-width:0.12px;">200</text>
<line x1="23.8" y1="478.49" x2="26.4" y2="478.49" stroke="#1a1a1a" stroke-width="0.6"/>
<text x="22.2" y="480.64" font-size="6.45" text-anchor="end" fill="#1a1a1a" style="stroke-width:0.12px;">400</text>
<line x1="23.8" y1="460.03" x2="26.4" y2="460.03" stroke="#1a1a1a" stroke-width="0.6"/>
<text x="22.2" y="462.18" font-size="6.45" text-anchor="end" fill="#1a1a1a" style="stroke-width:0.12px;">600</text>
<line x1="36.67" y1="515.4" x2="36.67" y2="518" stroke="#1a1a1a" stroke-width="0.6"/>
<text x="36.07" y="523.7" font-size="6.67" text-anchor="end" fill="#1a1a1a" transform="rotate(-45 36.07 523.7)">Children</text>
<line x1="57.23" y1="515.4" x2="57.23" y2="518" stroke="#1a1a1a" stroke-width="0.6"/>
<text x="56.62" y="523.7" font-size="6.67" text-anchor="end" fill="#1a1a1a" transform="rotate(-45 56.62 523.7)">Youth</text>
<line x1="77.78" y1="515.4" x2="77.78" y2="518" stroke="#1a1a1a" stroke-width="0.6"/>
<text x="77.18" y="523.7" font-size="6.67" text-anchor="end" fill="#1a1a1a" transform="rotate(-45 77.18 523.7)">Middle-aged</text>
<line x1="98.32" y1="515.4" x2="98.32" y2="518" stroke="#1a1a1a" stroke-width="0.6"/>
<text x="97.72" y="523.7" font-size="6.67" text-anchor="end" fill="#1a1a1a" transform="rotate(-45 97.72 523.7)">Elderly</text>
<text x="67.5" y="553.3" font-size="5.2" text-anchor="middle" fill="#1a1a1a" style="stroke-width:0.2px;">Age Group</text>
<text x="8.95" y="484.25" font-size="5.3" text-anchor="middle" fill="#1a1a1a" transform="rotate(-90 8.95 484.25)" style="stroke-width:0.2px;">Count</text>
<text x="192.7" y="446.5" font-size="6.4" text-anchor="middle" fill="#1a1a1a" style="stroke-width:0.12px;">Tricycle</text>
<rect x="156.89" y="514.83" width="9.97" height="0.57" fill="#aaaaaa" stroke="#1a1a1a" stroke-width="0.7"/>
<text x="161.88" y="506.2" font-size="5.4" text-anchor="middle" fill="#1a1a1a" style="stroke-width:0.2px;">6</text>
<line x1="160.53" y1="506.95" x2="163.22" y2="506.95" stroke="#222" stroke-width="0.5"/>
<text x="161.88" y="511.8" font-size="5.4" text-anchor="middle" fill="#1a1a1a" style="stroke-width:0.2px;">0</text>
<rect x="177.44" y="511.32" width="9.97" height="4.08" fill="#959ecc" stroke="#1a1a1a" stroke-width="0.7"/>
<rect x="177.44" y="496.82" width="9.97" height="14.5" fill="#aaaaaa" stroke="#1a1a1a" stroke-width="0.7"/>
<text x="182.43" y="514.76" font-size="5.4" text-anchor="middle" fill="#1a1a1a" style="stroke-width:0.2px;">43</text>
<text x="182.43" y="505.57" font-size="5.4" text-anchor="middle" fill="#1a1a1a" style="stroke-width:0.2px;">153</text>
<rect x="197.99" y="504.12" width="9.97" height="11.28" fill="#959ecc" stroke="#1a1a1a" stroke-width="0.7"/>
<rect x="197.99" y="456.07" width="9.97" height="48.05" fill="#aaaaaa" stroke="#1a1a1a" stroke-width="0.7"/>
<text x="202.97" y="511.16" font-size="5.4" text-anchor="middle" fill="#1a1a1a" style="stroke-width:0.2px;">119</text>
<text x="202.97" y="481.59" font-size="5.4" text-anchor="middle" fill="#1a1a1a" style="stroke-width:0.2px;">507</text>
<rect x="218.54" y="514.64" width="9.97" height="0.76" fill="#aaaaaa" stroke="#1a1a1a" stroke-width="0.7"/>
<text x="223.52" y="506.2" font-size="5.4" text-anchor="middle" fill="#1a1a1a" style="stroke-width:0.2px;">8</text>
<line x1="222.17" y1="506.95" x2="224.87" y2="506.95" stroke="#222" stroke-width="0.5"/>
<text x="223.52" y="511.8" font-size="5.4" text-anchor="middle" fill="#1a1a1a" style="stroke-width:0.2px;">0</text>
<line x1="151.6" y1="453.1" x2="151.6" y2="515.8" stroke="#1a1a1a" stroke-width="0.8"/>
<line x1="151.2" y1="515.4" x2="233.8" y2="515.4" stroke="#1a1a1a" stroke-width="0.8"/>
<line x1="149" y1="515.4" x2="151.6" y2="515.4" stroke="#1a1a1a" stroke-width="0.6"/>
<text x="147.4" y="517.55" font-size="6.45" text-anchor="end" fill="#1a1a1a" style="stroke-width:0.12px;">0</text>
<line x1="149" y1="496.44" x2="151.6" y2="496.44" stroke="#1a1a1a" stroke-width="0.6"/>
<text x="147.4" y="498.59" font-size="6.45" text-anchor="end" fill="#1a1a1a" style="stroke-width:0.12px;">200</text>
<line x1="149" y1="477.49" x2="151.6" y2="477.49" stroke="#1a1a1a" stroke-width="0.6"/>
<text x="147.4" y="479.64" font-size="6.45" text-anchor="end" fill="#1a1a1a" style="stroke-width:0.12px;">400</text>
<line x1="149" y1="458.53" x2="151.6" y2="458.53" stroke="#1a1a1a" stroke-width="0.6"/>
<text x="147.4" y="460.68" font-size="6.45" text-anchor="end" fill="#1a1a1a" style="stroke-width:0.12px;">600</text>
<line x1="161.88" y1="515.4" x2="161.88" y2="518" stroke="#1a1a1a" stroke-width="0.6"/>
<text x="161.28" y="523.7" font-size="6.67" text-anchor="end" fill="#1a1a1a" transform="rotate(-45 161.28 523.7)">Children</text>
<line x1="182.43" y1="515.4" x2="182.43" y2="518" stroke="#1a1a1a" stroke-width="0.6"/>
<text x="181.83" y="523.7" font-size="6.67" text-anchor="end" fill="#1a1a1a" transform="rotate(-45 181.83 523.7)">Youth</text>
<line x1="202.97" y1="515.4" x2="202.97" y2="518" stroke="#1a1a1a" stroke-width="0.6"/>
<text x="202.38" y="523.7" font-size="6.67" text-anchor="end" fill="#1a1a1a" transform="rotate(-45 202.38 523.7)">Middle-aged</text>
<line x1="223.52" y1="515.4" x2="223.52" y2="518" stroke="#1a1a1a" stroke-width="0.6"/>
<text x="222.92" y="523.7" font-size="6.67" text-anchor="end" fill="#1a1a1a" transform="rotate(-45 222.92 523.7)">Elderly</text>
<text x="192.7" y="553.3" font-size="5.2" text-anchor="middle" fill="#1a1a1a" style="stroke-width:0.2px;">Age Group</text>
<text x="134.15" y="484.25" font-size="5.3" text-anchor="middle" fill="#1a1a1a" transform="rotate(-90 134.15 484.25)" style="stroke-width:0.2px;">Count</text>
<text x="317.5" y="446.5" font-size="6.4" text-anchor="middle" fill="#1a1a1a" style="stroke-width:0.12px;">Motorbike</text>
<text x="286.67" y="506.2" font-size="5.4" text-anchor="middle" fill="#1a1a1a" style="stroke-width:0.2px;">0</text>
<line x1="285.32" y1="506.95" x2="288.02" y2="506.95" stroke="#222" stroke-width="0.5"/>
<text x="286.67" y="511.8" font-size="5.4" text-anchor="middle" fill="#1a1a1a" style="stroke-width:0.2px;">0</text>
<rect x="302.24" y="506.61" width="9.97" height="8.79" fill="#959ecc" stroke="#1a1a1a" stroke-width="0.7"/>
<rect x="302.24" y="495.62" width="9.97" height="10.99" fill="#aaaaaa" stroke="#1a1a1a" stroke-width="0.7"/>
<text x="307.22" y="512.4" font-size="5.4" text-anchor="middle" fill="#1a1a1a" style="stroke-width:0.2px;">8</text>
<text x="307.22" y="502.62" font-size="5.4" text-anchor="middle" fill="#1a1a1a" style="stroke-width:0.2px;">10</text>
<rect x="322.79" y="507.71" width="9.97" height="7.69" fill="#959ecc" stroke="#1a1a1a" stroke-width="0.7"/>
<rect x="322.79" y="456.07" width="9.97" height="51.64" fill="#aaaaaa" stroke="#1a1a1a" stroke-width="0.7"/>
<text x="327.77" y="512.95" font-size="5.4" text-anchor="middle" fill="#1a1a1a" style="stroke-width:0.2px;">7</text>
<text x="327.77" y="483.39" font-size="5.4" text-anchor="middle" fill="#1a1a1a" style="stroke-width:0.2px;">47</text>
<rect x="343.34" y="514.3" width="9.97" height="1.1" fill="#959ecc" stroke="#1a1a1a" stroke-width="0.7"/>
<text x="348.32" y="506.2" font-size="5.4" text-anchor="middle" fill="#1a1a1a" style="stroke-width:0.2px;">0</text>
<line x1="346.97" y1="506.95" x2="349.68" y2="506.95" stroke="#222" stroke-width="0.5"/>
<text x="348.32" y="511.8" font-size="5.4" text-anchor="middle" fill="#1a1a1a" style="stroke-width:0.2px;">1</text>
<line x1="276.4" y1="453.1" x2="276.4" y2="515.8" stroke="#1a1a1a" stroke-width="0.8"/>
<line x1="276" y1="515.4" x2="358.6" y2="515.4" stroke="#1a1a1a" stroke-width="0.8"/>
<line x1="273.8" y1="515.4" x2="276.4" y2="515.4" stroke="#1a1a1a" stroke-width="0.6"/>
<text x="272.2" y="517.55" font-size="6.45" text-anchor="end" fill="#1a1a1a" style="stroke-width:0.12px;">0</text>
<line x1="273.8" y1="493.42" x2="276.4" y2="493.42" stroke="#1a1a1a" stroke-width="0.6"/>
<text x="272.2" y="495.57" font-size="6.45" text-anchor="end" fill="#1a1a1a" style="stroke-width:0.12px;">20</text>
<line x1="273.8" y1="471.45" x2="276.4" y2="471.45" stroke="#1a1a1a" stroke-width="0.6"/>
<text x="272.2" y="473.6" font-size="6.45" text-anchor="end" fill="#1a1a1a" style="stroke-width:0.12px;">40</text>
<line x1="286.67" y1="515.4" x2="286.67" y2="518" stroke="#1a1a1a" stroke-width="0.6"/>
<text x="286.07" y="523.7" font-size="6.67" text-anchor="end" fill="#1a1a1a" transform="rotate(-45 286.07 523.7)">Children</text>
<line x1="307.22" y1="515.4" x2="307.22" y2="518" stroke="#1a1a1a" stroke-width="0.6"/>
<text x="306.62" y="523.7" font-size="6.67" text-anchor="end" fill="#1a1a1a" transform="rotate(-45 306.62 523.7)">Youth</text>
<line x1="327.77" y1="515.4" x2="327.77" y2="518" stroke="#1a1a1a" stroke-width="0.6"/>
<text x="327.17" y="523.7" font-size="6.67" text-anchor="end" fill="#1a1a1a" transform="rotate(-45 327.17 523.7)">Middle-aged</text>
<line x1="348.32" y1="515.4" x2="348.32" y2="518" stroke="#1a1a1a" stroke-width="0.6"/>
<text x="347.72" y="523.7" font-size="6.67" text-anchor="end" fill="#1a1a1a" transform="rotate(-45 347.72 523.7)">Elderly</text>
<text x="317.5" y="553.3" font-size="5.2" text-anchor="middle" fill="#1a1a1a" style="stroke-width:0.2px;">Age Group</text>
<text x="261.9" y="484.25" font-size="5.3" text-anchor="middle" fill="#1a1a1a" transform="rotate(-90 261.9 484.25)" style="stroke-width:0.2px;">Count</text>
<text x="67.5" y="567.5" font-size="6.4" text-anchor="middle" fill="#1a1a1a" style="stroke-width:0.12px;">DelieveryTricycle</text>
<rect x="31.69" y="636.1" width="9.97" height="0.3" fill="#959ecc" stroke="#1a1a1a" stroke-width="0.7"/>
<rect x="31.69" y="634.91" width="9.97" height="1.19" fill="#aaaaaa" stroke="#1a1a1a" stroke-width="0.7"/>
<text x="36.67" y="627.2" font-size="5.4" text-anchor="middle" fill="#1a1a1a" style="stroke-width:0.2px;">4</text>
<line x1="35.32" y1="627.95" x2="38.02" y2="627.95" stroke="#222" stroke-width="0.5"/>
<text x="36.67" y="632.8" font-size="5.4" text-anchor="middle" fill="#1a1a1a" style="stroke-width:0.2px;">1</text>
<rect x="52.24" y="633.72" width="9.97" height="2.68" fill="#959ecc" stroke="#1a1a1a" stroke-width="0.7"/>
<rect x="52.24" y="625.67" width="9.97" height="8.05" fill="#aaaaaa" stroke="#1a1a1a" stroke-width="0.7"/>
<text x="57.23" y="636.46" font-size="5.4" text-anchor="middle" fill="#1a1a1a" style="stroke-width:0.2px;">9</text>
<text x="57.23" y="631.19" font-size="5.4" text-anchor="middle" fill="#1a1a1a" style="stroke-width:0.2px;">27</text>
<rect x="72.79" y="625.96" width="9.97" height="10.44" fill="#959ecc" stroke="#1a1a1a" stroke-width="0.7"/>
<rect x="72.79" y="577.07" width="9.97" height="48.9" fill="#aaaaaa" stroke="#1a1a1a" stroke-width="0.7"/>
<text x="77.78" y="632.58" font-size="5.4" text-anchor="middle" fill="#1a1a1a" style="stroke-width:0.2px;">35</text>
<text x="77.78" y="603.02" font-size="5.4" text-anchor="middle" fill="#1a1a1a" style="stroke-width:0.2px;">164</text>
<rect x="93.34" y="636.1" width="9.97" height="0.3" fill="#aaaaaa" stroke="#1a1a1a" stroke-width="0.7"/>
<text x="98.32" y="627.2" font-size="5.4" text-anchor="middle" fill="#1a1a1a" style="stroke-width:0.2px;">1</text>
<line x1="96.97" y1="627.95" x2="99.67" y2="627.95" stroke="#222" stroke-width="0.5"/>
<text x="98.32" y="632.8" font-size="5.4" text-anchor="middle" fill="#1a1a1a" style="stroke-width:0.2px;">0</text>
<line x1="26.4" y1="574.1" x2="26.4" y2="636.8" stroke="#1a1a1a" stroke-width="0.8"/>
<line x1="26" y1="636.4" x2="108.6" y2="636.4" stroke="#1a1a1a" stroke-width="0.8"/>
<line x1="23.8" y1="636.4" x2="26.4" y2="636.4" stroke="#1a1a1a" stroke-width="0.6"/>
<text x="22.2" y="638.55" font-size="6.45" text-anchor="end" fill="#1a1a1a" style="stroke-width:0.12px;">0</text>
<line x1="23.8" y1="606.58" x2="26.4" y2="606.58" stroke="#1a1a1a" stroke-width="0.6"/>
<text x="22.2" y="608.73" font-size="6.45" text-anchor="end" fill="#1a1a1a" style="stroke-width:0.12px;">100</text>
<line x1="23.8" y1="576.77" x2="26.4" y2="576.77" stroke="#1a1a1a" stroke-width="0.6"/>
<text x="22.2" y="578.92" font-size="6.45" text-anchor="end" fill="#1a1a1a" style="stroke-width:0.12px;">200</text>
<line x1="36.67" y1="636.4" x2="36.67" y2="639" stroke="#1a1a1a" stroke-width="0.6"/>
<text x="36.07" y="644.7" font-size="6.67" text-anchor="end" fill="#1a1a1a" transform="rotate(-45 36.07 644.7)">Children</text>
<line x1="57.23" y1="636.4" x2="57.23" y2="639" stroke="#1a1a1a" stroke-width="0.6"/>
<text x="56.62" y="644.7" font-size="6.67" text-anchor="end" fill="#1a1a1a" transform="rotate(-45 56.62 644.7)">Youth</text>
<line x1="77.78" y1="636.4" x2="77.78" y2="639" stroke="#1a1a1a" stroke-width="0.6"/>
<text x="77.18" y="644.7" font-size="6.67" text-anchor="end" fill="#1a1a1a" transform="rotate(-45 77.18 644.7)">Middle-aged</text>
<line x1="98.32" y1="636.4" x2="98.32" y2="639" stroke="#1a1a1a" stroke-width="0.6"/>
<text x="97.72" y="644.7" font-size="6.67" text-anchor="end" fill="#1a1a1a" transform="rotate(-45 97.72 644.7)">Elderly</text>
<text x="67.5" y="674.3" font-size="5.2" text-anchor="middle" fill="#1a1a1a" style="stroke-width:0.2px;">Age Group</text>
<text x="8.95" y="605.25" font-size="5.3" text-anchor="middle" fill="#1a1a1a" transform="rotate(-90 8.95 605.25)" style="stroke-width:0.2px;">Count</text>
<rect x="110.7" y="580.4" width="33.9" height="24.1" fill="#ffffff" stroke="#d4d4d4" stroke-width="0.55" rx="1" ry="1"/>
<text x="127.7" y="587.4" font-size="5.8" text-anchor="middle" fill="#1a1a1a" style="stroke-width:0.12px;">Gender</text>
<rect x="113.4" y="590.3" width="10.1" height="3.9" fill="#959ecc" stroke="#1a1a1a" stroke-width="0.65"/>
<text x="127.6" y="594.2" font-size="5.5" text-anchor="start" fill="#1a1a1a" style="stroke-width:0.2px;">Female</text>
<rect x="113.4" y="597.8" width="10.1" height="3.9" fill="#aaaaaa" stroke="#1a1a1a" stroke-width="0.65"/>
<text x="127.6" y="601.7" font-size="5.5" text-anchor="start" fill="#1a1a1a" style="stroke-width:0.2px;">Male</text>
<text x="513" y="312.5" font-size="7.17" text-anchor="middle" fill="#1a1a1a">d.Top 10 Violation Pattern Combinations</text>
<rect x="556.4" y="335.9" width="9.28" height="9.8" fill="#959ecc" stroke="#1a1a1a" stroke-width="0.7"/>
<text x="565.48" y="342.7" font-size="6" text-anchor="start" fill="#1a1a1a" style="stroke-width:0.12px;">310</text>
<line x1="553.8" y1="340.8" x2="556.4" y2="340.8" stroke="#1a1a1a" stroke-width="0.6"/>
<text x="552" y="342.7" font-size="5.96" text-anchor="end" fill="#1a1a1a" style="stroke-width:0.12px;">Tricycle-Male-Middle-aged-Not wearing a helmet</text>
<rect x="556.4" y="360.33" width="12.48" height="9.8" fill="#959ecc" stroke="#1a1a1a" stroke-width="0.7"/>
<text x="568.68" y="367.13" font-size="6" text-anchor="start" fill="#1a1a1a" style="stroke-width:0.12px;">417</text>
<line x1="553.8" y1="365.23" x2="556.4" y2="365.23" stroke="#1a1a1a" stroke-width="0.6"/>
<text x="552" y="367.13" font-size="5.96" text-anchor="end" fill="#1a1a1a" style="stroke-width:0.12px;">Ebike-Female-Youth-Not wearing a helmet</text>
<rect x="556.4" y="384.76" width="14.03" height="9.8" fill="#959ecc" stroke="#1a1a1a" stroke-width="0.7"/>
<text x="570.23" y="391.56" font-size="6" text-anchor="start" fill="#1a1a1a" style="stroke-width:0.12px;">469</text>
<line x1="553.8" y1="389.66" x2="556.4" y2="389.66" stroke="#1a1a1a" stroke-width="0.6"/>
<text x="552" y="391.56" font-size="5.96" text-anchor="end" fill="#1a1a1a" style="stroke-width:0.12px;">Ebike-Male-Middle-aged-Riding on motorway</text>
<rect x="556.4" y="409.19" width="15.5" height="9.8" fill="#959ecc" stroke="#1a1a1a" stroke-width="0.7"/>
<text x="571.7" y="415.99" font-size="6" text-anchor="start" fill="#1a1a1a" style="stroke-width:0.12px;">518</text>
<line x1="553.8" y1="414.09" x2="556.4" y2="414.09" stroke="#1a1a1a" stroke-width="0.6"/>
<text x="552" y="415.99" font-size="5.96" text-anchor="end" fill="#1a1a1a" style="stroke-width:0.12px;">DelieveryEbike-Male-Middle-aged-Riding on motorway</text>
<rect x="556.4" y="433.62" width="16.07" height="9.8" fill="#959ecc" stroke="#1a1a1a" stroke-width="0.7"/>
<text x="572.27" y="440.42" font-size="6" text-anchor="start" fill="#1a1a1a" style="stroke-width:0.12px;">537</text>
<line x1="553.8" y1="438.52" x2="556.4" y2="438.52" stroke="#1a1a1a" stroke-width="0.6"/>
<text x="552" y="440.42" font-size="5.96" text-anchor="end" fill="#1a1a1a" style="stroke-width:0.12px;">Ebike-Male-Middle-aged-Carrying a passenger on bicycle/e-bike</text>
<rect x="556.4" y="458.05" width="28.43" height="9.8" fill="#959ecc" stroke="#1a1a1a" stroke-width="0.7"/>
<text x="584.63" y="464.85" font-size="6" text-anchor="start" fill="#1a1a1a" style="stroke-width:0.12px;">950</text>
<line x1="553.8" y1="462.95" x2="556.4" y2="462.95" stroke="#1a1a1a" stroke-width="0.6"/>
<text x="552" y="464.85" font-size="5.96" text-anchor="end" fill="#1a1a1a" style="stroke-width:0.12px;">Ebike-Male-Youth-Not wearing a helmet</text>
<rect x="556.4" y="482.48" width="38.03" height="9.8" fill="#959ecc" stroke="#1a1a1a" stroke-width="0.7"/>
<text x="594.23" y="489.28" font-size="6" text-anchor="start" fill="#1a1a1a" style="stroke-width:0.12px;">1271</text>
<line x1="553.8" y1="487.38" x2="556.4" y2="487.38" stroke="#1a1a1a" stroke-width="0.6"/>
<text x="552" y="489.28" font-size="5.96" text-anchor="end" fill="#1a1a1a" style="stroke-width:0.12px;">Pedestrian-Male-Middle-aged-Not wearing a helmet</text>
<rect x="556.4" y="506.91" width="38.84" height="9.8" fill="#959ecc" stroke="#1a1a1a" stroke-width="0.7"/>
<text x="595.04" y="513.71" font-size="6" text-anchor="start" fill="#1a1a1a" style="stroke-width:0.12px;">1298</text>
<line x1="553.8" y1="511.81" x2="556.4" y2="511.81" stroke="#1a1a1a" stroke-width="0.6"/>
<text x="552" y="513.71" font-size="5.96" text-anchor="end" fill="#1a1a1a" style="stroke-width:0.12px;">DelieveryEbike-Male-Middle-aged-Not wearing a helmet</text>
<rect x="556.4" y="531.34" width="44.77" height="9.8" fill="#959ecc" stroke="#1a1a1a" stroke-width="0.7"/>
<text x="600.97" y="538.14" font-size="6" text-anchor="start" fill="#1a1a1a" style="stroke-width:0.12px;">1496</text>
<line x1="553.8" y1="536.24" x2="556.4" y2="536.24" stroke="#1a1a1a" stroke-width="0.6"/>
<text x="552" y="538.14" font-size="5.96" text-anchor="end" fill="#1a1a1a" style="stroke-width:0.12px;">Ebike-Female-Middle-aged-Not wearing a helmet</text>
<rect x="556.4" y="555.77" width="113.14" height="9.8" fill="#959ecc" stroke="#1a1a1a" stroke-width="0.7"/>
<text x="669.34" y="562.57" font-size="6" text-anchor="start" fill="#1a1a1a" style="stroke-width:0.12px;">3781</text>
<line x1="553.8" y1="560.67" x2="556.4" y2="560.67" stroke="#1a1a1a" stroke-width="0.6"/>
<text x="552" y="562.57" font-size="5.96" text-anchor="end" fill="#1a1a1a" style="stroke-width:0.12px;">Ebike-Male-Middle-aged-Not wearing a helmet</text>
<line x1="556.4" y1="324" x2="556.4" y2="576.9" stroke="#4a4a4a" stroke-width="0.85"/>
<line x1="556" y1="576.5" x2="675.2" y2="576.5" stroke="#4a4a4a" stroke-width="0.85"/>
<line x1="556.4" y1="576.5" x2="556.4" y2="579.1" stroke="#1a1a1a" stroke-width="0.6"/>
<text x="556.4" y="585.7" font-size="6" text-anchor="middle" fill="#1a1a1a" style="stroke-width:0.12px;">0</text>
<line x1="586.32" y1="576.5" x2="586.32" y2="579.1" stroke="#1a1a1a" stroke-width="0.6"/>
<text x="586.32" y="585.7" font-size="6" text-anchor="middle" fill="#1a1a1a" style="stroke-width:0.12px;">1000</text>
<line x1="616.25" y1="576.5" x2="616.25" y2="579.1" stroke="#1a1a1a" stroke-width="0.6"/>
<text x="616.25" y="585.7" font-size="6" text-anchor="middle" fill="#1a1a1a" style="stroke-width:0.12px;">2000</text>
<line x1="646.17" y1="576.5" x2="646.17" y2="579.1" stroke="#1a1a1a" stroke-width="0.6"/>
<text x="646.17" y="585.7" font-size="6" text-anchor="middle" fill="#1a1a1a" style="stroke-width:0.12px;">3000</text>
<text x="615.6" y="592.9" font-size="6.2" text-anchor="middle" fill="#1a1a1a" style="stroke-width:0.12px;">Count</text>
</svg></body></html>
